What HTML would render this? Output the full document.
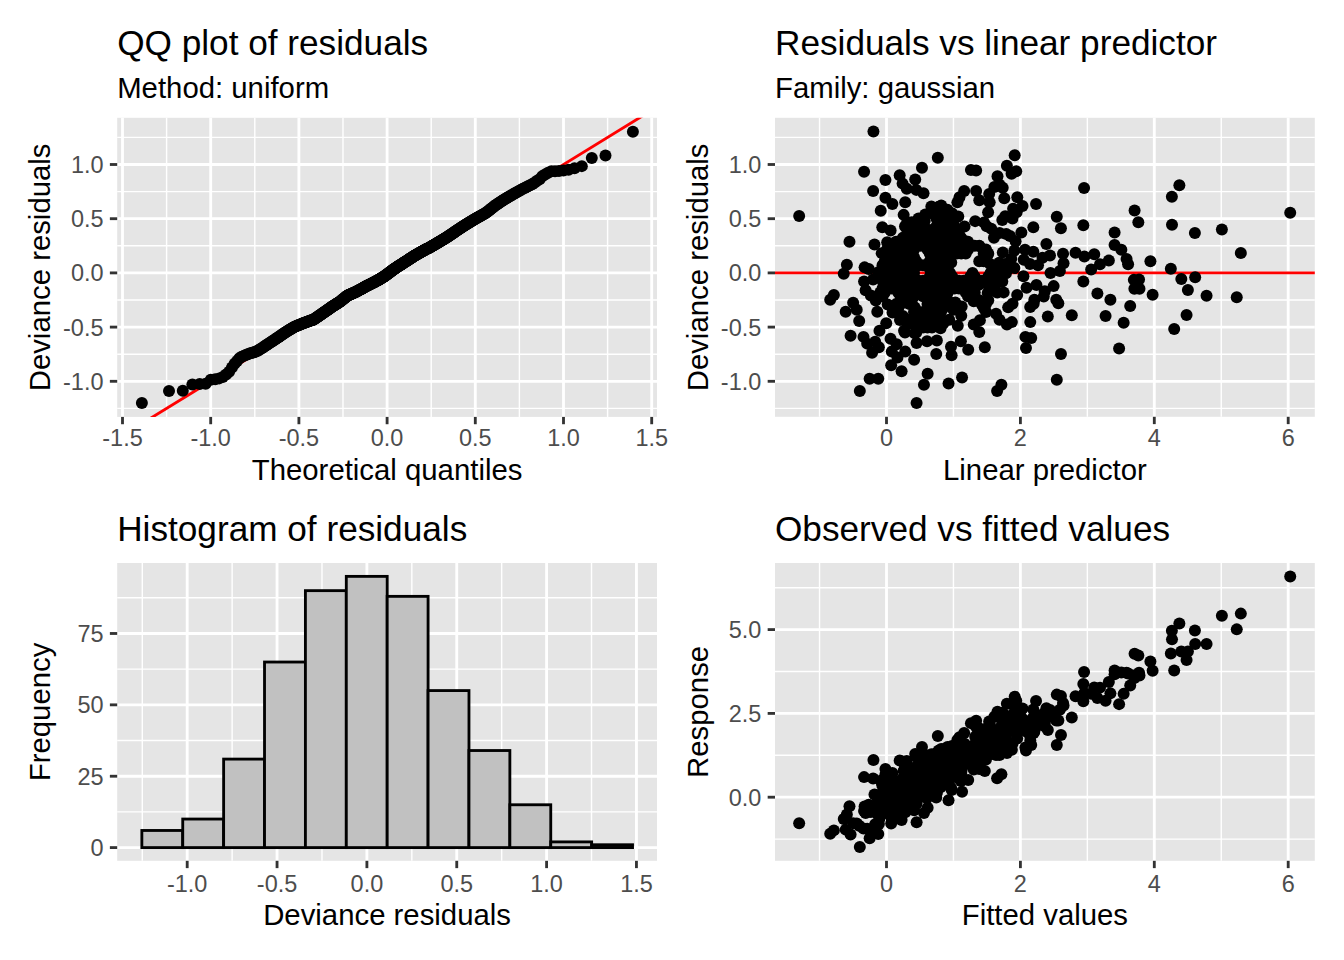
<!DOCTYPE html>
<html><head><meta charset="utf-8"><style>
html,body{margin:0;padding:0;background:#fff;width:1344px;height:960px;overflow:hidden}
svg{display:block}
text{font-family:"Liberation Sans", sans-serif;}
.ti{font-size:35.2px;fill:#000}
.st{font-size:29.33px;fill:#000}
.at{font-size:29.33px;fill:#000}
.ax{font-size:23.47px;fill:#4D4D4D}
</style></head><body>
<svg width="1344" height="960" viewBox="0 0 1344 960">
<rect width="1344" height="960" fill="#fff"/>
<rect x="117.2" y="117.8" width="539.8" height="299.1" fill="#E5E5E5"/>
<line x1="117.2" x2="657" y1="408.4" y2="408.4" stroke="#fff" stroke-width="1.42"/>
<line x1="117.2" x2="657" y1="354.2" y2="354.2" stroke="#fff" stroke-width="1.42"/>
<line x1="117.2" x2="657" y1="300" y2="300" stroke="#fff" stroke-width="1.42"/>
<line x1="117.2" x2="657" y1="245.8" y2="245.8" stroke="#fff" stroke-width="1.42"/>
<line x1="117.2" x2="657" y1="191.6" y2="191.6" stroke="#fff" stroke-width="1.42"/>
<line x1="117.2" x2="657" y1="137.4" y2="137.4" stroke="#fff" stroke-width="1.42"/>
<line y1="117.8" y2="416.9" x1="166.6" x2="166.6" stroke="#fff" stroke-width="1.42"/>
<line y1="117.8" y2="416.9" x1="254.8" x2="254.8" stroke="#fff" stroke-width="1.42"/>
<line y1="117.8" y2="416.9" x1="343" x2="343" stroke="#fff" stroke-width="1.42"/>
<line y1="117.8" y2="416.9" x1="431.2" x2="431.2" stroke="#fff" stroke-width="1.42"/>
<line y1="117.8" y2="416.9" x1="519.4" x2="519.4" stroke="#fff" stroke-width="1.42"/>
<line y1="117.8" y2="416.9" x1="607.6" x2="607.6" stroke="#fff" stroke-width="1.42"/>
<line x1="117.2" x2="657" y1="381.3" y2="381.3" stroke="#fff" stroke-width="2.84"/>
<line x1="117.2" x2="657" y1="327.1" y2="327.1" stroke="#fff" stroke-width="2.84"/>
<line x1="117.2" x2="657" y1="272.9" y2="272.9" stroke="#fff" stroke-width="2.84"/>
<line x1="117.2" x2="657" y1="218.7" y2="218.7" stroke="#fff" stroke-width="2.84"/>
<line x1="117.2" x2="657" y1="164.5" y2="164.5" stroke="#fff" stroke-width="2.84"/>
<line y1="117.8" y2="416.9" x1="122.5" x2="122.5" stroke="#fff" stroke-width="2.84"/>
<line y1="117.8" y2="416.9" x1="210.7" x2="210.7" stroke="#fff" stroke-width="2.84"/>
<line y1="117.8" y2="416.9" x1="298.9" x2="298.9" stroke="#fff" stroke-width="2.84"/>
<line y1="117.8" y2="416.9" x1="387.1" x2="387.1" stroke="#fff" stroke-width="2.84"/>
<line y1="117.8" y2="416.9" x1="475.3" x2="475.3" stroke="#fff" stroke-width="2.84"/>
<line y1="117.8" y2="416.9" x1="563.5" x2="563.5" stroke="#fff" stroke-width="2.84"/>
<line y1="117.8" y2="416.9" x1="651.7" x2="651.7" stroke="#fff" stroke-width="2.84"/>
<line y1="416.9" y2="424.23" x1="122.5" x2="122.5" stroke="#333333" stroke-width="2.84"/>
<line y1="416.9" y2="424.23" x1="210.7" x2="210.7" stroke="#333333" stroke-width="2.84"/>
<line y1="416.9" y2="424.23" x1="298.9" x2="298.9" stroke="#333333" stroke-width="2.84"/>
<line y1="416.9" y2="424.23" x1="387.1" x2="387.1" stroke="#333333" stroke-width="2.84"/>
<line y1="416.9" y2="424.23" x1="475.3" x2="475.3" stroke="#333333" stroke-width="2.84"/>
<line y1="416.9" y2="424.23" x1="563.5" x2="563.5" stroke="#333333" stroke-width="2.84"/>
<line y1="416.9" y2="424.23" x1="651.7" x2="651.7" stroke="#333333" stroke-width="2.84"/>
<line x1="109.87" x2="117.2" y1="381.3" y2="381.3" stroke="#333333" stroke-width="2.84"/>
<line x1="109.87" x2="117.2" y1="327.1" y2="327.1" stroke="#333333" stroke-width="2.84"/>
<line x1="109.87" x2="117.2" y1="272.9" y2="272.9" stroke="#333333" stroke-width="2.84"/>
<line x1="109.87" x2="117.2" y1="218.7" y2="218.7" stroke="#333333" stroke-width="2.84"/>
<line x1="109.87" x2="117.2" y1="164.5" y2="164.5" stroke="#333333" stroke-width="2.84"/>
<text x="122.5" y="446.4" class="ax" text-anchor="middle">-1.5</text>
<text x="210.7" y="446.4" class="ax" text-anchor="middle">-1.0</text>
<text x="298.9" y="446.4" class="ax" text-anchor="middle">-0.5</text>
<text x="387.1" y="446.4" class="ax" text-anchor="middle">0.0</text>
<text x="475.3" y="446.4" class="ax" text-anchor="middle">0.5</text>
<text x="563.5" y="446.4" class="ax" text-anchor="middle">1.0</text>
<text x="651.7" y="446.4" class="ax" text-anchor="middle">1.5</text>
<text x="103.5" y="389.7" class="ax" text-anchor="end">-1.0</text>
<text x="103.5" y="335.5" class="ax" text-anchor="end">-0.5</text>
<text x="103.5" y="281.3" class="ax" text-anchor="end">0.0</text>
<text x="103.5" y="227.1" class="ax" text-anchor="end">0.5</text>
<text x="103.5" y="172.9" class="ax" text-anchor="end">1.0</text>
<clipPath id="c1"><rect x="117.2" y="117.8" width="539.8" height="299.1"/></clipPath>
<g clip-path="url(#c1)"><line x1="34.3" y1="489.7" x2="739.9" y2="56.1" stroke="#FF0000" stroke-width="2.84"/></g>
<g fill="#000"><circle cx="141.9" cy="403" r="6.0"/><circle cx="169" cy="391.1" r="6.0"/><circle cx="182.79" cy="390.8" r="6.0"/><circle cx="192.37" cy="384.49" r="6.0"/><circle cx="199.68" cy="384.1" r="6.0"/><circle cx="205.65" cy="383.68" r="6.0"/><circle cx="210.77" cy="379.85" r="6.0"/><circle cx="215.23" cy="379.16" r="6.0"/><circle cx="219.22" cy="378.38" r="6.0"/><circle cx="222.82" cy="377.07" r="6.0"/><circle cx="226.1" cy="374.42" r="6.0"/><circle cx="229.13" cy="371.78" r="6.0"/><circle cx="231.96" cy="367.55" r="6.0"/><circle cx="234.6" cy="363.79" r="6.0"/><circle cx="237.09" cy="360.91" r="6.0"/><circle cx="239.42" cy="358.17" r="6.0"/><circle cx="241.64" cy="356.79" r="6.0"/><circle cx="243.76" cy="355.88" r="6.0"/><circle cx="245.77" cy="355" r="6.0"/><circle cx="247.69" cy="354.18" r="6.0"/><circle cx="249.54" cy="353.54" r="6.0"/><circle cx="251.32" cy="352.98" r="6.0"/><circle cx="253.04" cy="352.42" r="6.0"/><circle cx="254.69" cy="351.9" r="6.0"/><circle cx="256.28" cy="351.38" r="6.0"/><circle cx="257.83" cy="350.79" r="6.0"/><circle cx="259.33" cy="349.79" r="6.0"/><circle cx="260.78" cy="348.83" r="6.0"/><circle cx="262.19" cy="347.9" r="6.0"/><circle cx="263.57" cy="346.99" r="6.0"/><circle cx="264.91" cy="346.11" r="6.0"/><circle cx="266.21" cy="345.25" r="6.0"/><circle cx="267.48" cy="344.41" r="6.0"/><circle cx="268.74" cy="343.6" r="6.0"/><circle cx="269.95" cy="342.81" r="6.0"/><circle cx="271.13" cy="342.03" r="6.0"/><circle cx="272.3" cy="341.26" r="6.0"/><circle cx="273.43" cy="340.51" r="6.0"/><circle cx="274.56" cy="339.78" r="6.0"/><circle cx="275.65" cy="339.07" r="6.0"/><circle cx="276.71" cy="338.34" r="6.0"/><circle cx="277.77" cy="337.61" r="6.0"/><circle cx="278.81" cy="336.9" r="6.0"/><circle cx="279.81" cy="336.19" r="6.0"/><circle cx="280.82" cy="335.51" r="6.0"/><circle cx="281.81" cy="334.83" r="6.0"/><circle cx="282.76" cy="334.16" r="6.0"/><circle cx="283.71" cy="333.5" r="6.0"/><circle cx="284.65" cy="332.86" r="6.0"/><circle cx="285.58" cy="332.22" r="6.0"/><circle cx="286.48" cy="331.67" r="6.0"/><circle cx="287.38" cy="331.13" r="6.0"/><circle cx="288.26" cy="330.61" r="6.0"/><circle cx="289.15" cy="330.09" r="6.0"/><circle cx="289.99" cy="329.58" r="6.0"/><circle cx="290.86" cy="329.07" r="6.0"/><circle cx="291.69" cy="328.57" r="6.0"/><circle cx="292.51" cy="328.09" r="6.0"/><circle cx="293.33" cy="327.6" r="6.0"/><circle cx="294.14" cy="327.11" r="6.0"/><circle cx="294.93" cy="326.63" r="6.0"/><circle cx="295.72" cy="326.31" r="6.0"/><circle cx="296.5" cy="325.98" r="6.0"/><circle cx="297.28" cy="325.67" r="6.0"/><circle cx="298.04" cy="325.35" r="6.0"/><circle cx="298.79" cy="325.05" r="6.0"/><circle cx="299.54" cy="324.75" r="6.0"/><circle cx="300.28" cy="324.44" r="6.0"/><circle cx="301.02" cy="324.14" r="6.0"/><circle cx="301.74" cy="323.85" r="6.0"/><circle cx="302.45" cy="323.56" r="6.0"/><circle cx="303.17" cy="323.26" r="6.0"/><circle cx="303.87" cy="322.98" r="6.0"/><circle cx="304.56" cy="322.71" r="6.0"/><circle cx="305.25" cy="322.46" r="6.0"/><circle cx="305.94" cy="322.22" r="6.0"/><circle cx="306.63" cy="321.98" r="6.0"/><circle cx="307.3" cy="321.75" r="6.0"/><circle cx="307.97" cy="321.52" r="6.0"/><circle cx="308.62" cy="321.28" r="6.0"/><circle cx="309.27" cy="321.05" r="6.0"/><circle cx="309.93" cy="320.82" r="6.0"/><circle cx="310.58" cy="320.6" r="6.0"/><circle cx="311.21" cy="320.37" r="6.0"/><circle cx="311.85" cy="320.15" r="6.0"/><circle cx="312.48" cy="319.92" r="6.0"/><circle cx="313.12" cy="319.71" r="6.0"/><circle cx="313.74" cy="319.48" r="6.0"/><circle cx="314.35" cy="319.05" r="6.0"/><circle cx="314.97" cy="318.62" r="6.0"/><circle cx="315.57" cy="318.2" r="6.0"/><circle cx="316.19" cy="317.79" r="6.0"/><circle cx="316.79" cy="317.37" r="6.0"/><circle cx="317.39" cy="316.95" r="6.0"/><circle cx="317.97" cy="316.54" r="6.0"/><circle cx="318.57" cy="316.14" r="6.0"/><circle cx="319.15" cy="315.74" r="6.0"/><circle cx="319.73" cy="315.33" r="6.0"/><circle cx="320.3" cy="314.94" r="6.0"/><circle cx="320.88" cy="314.54" r="6.0"/><circle cx="321.44" cy="314.14" r="6.0"/><circle cx="322.03" cy="313.75" r="6.0"/><circle cx="322.59" cy="313.35" r="6.0"/><circle cx="323.14" cy="312.96" r="6.0"/><circle cx="323.7" cy="312.57" r="6.0"/><circle cx="324.25" cy="312.18" r="6.0"/><circle cx="324.81" cy="311.8" r="6.0"/><circle cx="325.36" cy="311.41" r="6.0"/><circle cx="325.91" cy="311.04" r="6.0"/><circle cx="326.45" cy="310.64" r="6.0"/><circle cx="326.98" cy="310.27" r="6.0"/><circle cx="327.53" cy="309.9" r="6.0"/><circle cx="328.06" cy="309.52" r="6.0"/><circle cx="328.59" cy="309.15" r="6.0"/><circle cx="329.12" cy="308.77" r="6.0"/><circle cx="329.65" cy="308.4" r="6.0"/><circle cx="330.18" cy="308.03" r="6.0"/><circle cx="330.69" cy="307.66" r="6.0"/><circle cx="331.22" cy="307.31" r="6.0"/><circle cx="331.73" cy="306.94" r="6.0"/><circle cx="332.24" cy="306.58" r="6.0"/><circle cx="332.75" cy="306.23" r="6.0"/><circle cx="333.26" cy="305.92" r="6.0"/><circle cx="333.77" cy="305.6" r="6.0"/><circle cx="334.29" cy="305.28" r="6.0"/><circle cx="334.78" cy="304.96" r="6.0"/><circle cx="335.29" cy="304.65" r="6.0"/><circle cx="335.79" cy="304.34" r="6.0"/><circle cx="336.28" cy="304.03" r="6.0"/><circle cx="336.77" cy="303.72" r="6.0"/><circle cx="337.27" cy="303.4" r="6.0"/><circle cx="337.76" cy="303.1" r="6.0"/><circle cx="338.25" cy="302.8" r="6.0"/><circle cx="338.75" cy="302.48" r="6.0"/><circle cx="339.23" cy="302.18" r="6.0"/><circle cx="339.72" cy="301.88" r="6.0"/><circle cx="340.2" cy="301.54" r="6.0"/><circle cx="340.67" cy="301.15" r="6.0"/><circle cx="341.17" cy="300.76" r="6.0"/><circle cx="341.64" cy="300.37" r="6.0"/><circle cx="342.12" cy="299.98" r="6.0"/><circle cx="342.58" cy="299.6" r="6.0"/><circle cx="343.05" cy="299.21" r="6.0"/><circle cx="343.53" cy="298.83" r="6.0"/><circle cx="344.01" cy="298.45" r="6.0"/><circle cx="344.46" cy="298.07" r="6.0"/><circle cx="344.94" cy="297.69" r="6.0"/><circle cx="345.4" cy="297.31" r="6.0"/><circle cx="345.86" cy="296.93" r="6.0"/><circle cx="346.32" cy="296.55" r="6.0"/><circle cx="346.79" cy="296.18" r="6.0"/><circle cx="347.25" cy="295.8" r="6.0"/><circle cx="347.71" cy="295.51" r="6.0"/><circle cx="348.17" cy="295.31" r="6.0"/><circle cx="348.61" cy="295.1" r="6.0"/><circle cx="349.07" cy="294.89" r="6.0"/><circle cx="349.53" cy="294.7" r="6.0"/><circle cx="349.97" cy="294.49" r="6.0"/><circle cx="350.43" cy="294.29" r="6.0"/><circle cx="350.89" cy="294.09" r="6.0"/><circle cx="351.33" cy="293.89" r="6.0"/><circle cx="351.77" cy="293.69" r="6.0"/><circle cx="352.23" cy="293.5" r="6.0"/><circle cx="352.67" cy="293.29" r="6.0"/><circle cx="353.11" cy="293.09" r="6.0"/><circle cx="353.55" cy="292.9" r="6.0"/><circle cx="353.99" cy="292.69" r="6.0"/><circle cx="354.43" cy="292.5" r="6.0"/><circle cx="354.87" cy="292.3" r="6.0"/><circle cx="355.31" cy="292.11" r="6.0"/><circle cx="355.75" cy="291.91" r="6.0"/><circle cx="356.19" cy="291.72" r="6.0"/><circle cx="356.62" cy="291.52" r="6.0"/><circle cx="357.06" cy="291.31" r="6.0"/><circle cx="357.5" cy="291.07" r="6.0"/><circle cx="357.92" cy="290.83" r="6.0"/><circle cx="358.36" cy="290.58" r="6.0"/><circle cx="358.79" cy="290.34" r="6.0"/><circle cx="359.23" cy="290.1" r="6.0"/><circle cx="359.65" cy="289.86" r="6.0"/><circle cx="360.08" cy="289.63" r="6.0"/><circle cx="360.52" cy="289.38" r="6.0"/><circle cx="360.94" cy="289.14" r="6.0"/><circle cx="361.36" cy="288.9" r="6.0"/><circle cx="361.79" cy="288.66" r="6.0"/><circle cx="362.21" cy="288.42" r="6.0"/><circle cx="362.63" cy="288.2" r="6.0"/><circle cx="363.06" cy="287.96" r="6.0"/><circle cx="363.48" cy="287.72" r="6.0"/><circle cx="363.9" cy="287.48" r="6.0"/><circle cx="364.33" cy="287.24" r="6.0"/><circle cx="364.75" cy="287.01" r="6.0"/><circle cx="365.17" cy="286.78" r="6.0"/><circle cx="365.6" cy="286.54" r="6.0"/><circle cx="366.02" cy="286.31" r="6.0"/><circle cx="366.43" cy="286.08" r="6.0"/><circle cx="366.85" cy="285.88" r="6.0"/><circle cx="367.27" cy="285.67" r="6.0"/><circle cx="367.68" cy="285.45" r="6.0"/><circle cx="368.1" cy="285.25" r="6.0"/><circle cx="368.53" cy="285.04" r="6.0"/><circle cx="368.93" cy="284.83" r="6.0"/><circle cx="369.35" cy="284.63" r="6.0"/><circle cx="369.76" cy="284.42" r="6.0"/><circle cx="370.18" cy="284.21" r="6.0"/><circle cx="370.59" cy="284" r="6.0"/><circle cx="371.01" cy="283.79" r="6.0"/><circle cx="371.42" cy="283.59" r="6.0"/><circle cx="371.82" cy="283.38" r="6.0"/><circle cx="372.25" cy="283.18" r="6.0"/><circle cx="372.65" cy="282.97" r="6.0"/><circle cx="373.06" cy="282.76" r="6.0"/><circle cx="373.48" cy="282.56" r="6.0"/><circle cx="373.89" cy="282.35" r="6.0"/><circle cx="374.29" cy="282.15" r="6.0"/><circle cx="374.7" cy="281.95" r="6.0"/><circle cx="375.12" cy="281.75" r="6.0"/><circle cx="375.53" cy="281.54" r="6.0"/><circle cx="375.93" cy="281.31" r="6.0"/><circle cx="376.34" cy="281.07" r="6.0"/><circle cx="376.75" cy="280.85" r="6.0"/><circle cx="377.15" cy="280.61" r="6.0"/><circle cx="377.57" cy="280.38" r="6.0"/><circle cx="377.98" cy="280.14" r="6.0"/><circle cx="378.39" cy="279.91" r="6.0"/><circle cx="378.79" cy="279.67" r="6.0"/><circle cx="379.2" cy="279.45" r="6.0"/><circle cx="379.6" cy="279.21" r="6.0"/><circle cx="380.01" cy="278.98" r="6.0"/><circle cx="380.41" cy="278.75" r="6.0"/><circle cx="380.82" cy="278.52" r="6.0"/><circle cx="381.23" cy="278.29" r="6.0"/><circle cx="381.63" cy="278.03" r="6.0"/><circle cx="382.04" cy="277.77" r="6.0"/><circle cx="382.44" cy="277.52" r="6.0"/><circle cx="382.85" cy="277.26" r="6.0"/><circle cx="383.25" cy="277" r="6.0"/><circle cx="383.66" cy="276.75" r="6.0"/><circle cx="384.07" cy="276.49" r="6.0"/><circle cx="384.47" cy="276.24" r="6.0"/><circle cx="384.88" cy="275.98" r="6.0"/><circle cx="385.28" cy="275.69" r="6.0"/><circle cx="385.69" cy="275.38" r="6.0"/><circle cx="386.09" cy="275.08" r="6.0"/><circle cx="386.5" cy="274.78" r="6.0"/><circle cx="386.91" cy="274.47" r="6.0"/><circle cx="387.29" cy="274.17" r="6.0"/><circle cx="387.7" cy="273.86" r="6.0"/><circle cx="388.11" cy="273.56" r="6.0"/><circle cx="388.51" cy="273.26" r="6.0"/><circle cx="388.92" cy="272.94" r="6.0"/><circle cx="389.32" cy="272.64" r="6.0"/><circle cx="389.73" cy="272.34" r="6.0"/><circle cx="390.13" cy="272.03" r="6.0"/><circle cx="390.54" cy="271.73" r="6.0"/><circle cx="390.95" cy="271.43" r="6.0"/><circle cx="391.35" cy="271.12" r="6.0"/><circle cx="391.76" cy="270.82" r="6.0"/><circle cx="392.16" cy="270.5" r="6.0"/><circle cx="392.57" cy="270.2" r="6.0"/><circle cx="392.97" cy="269.9" r="6.0"/><circle cx="393.38" cy="269.59" r="6.0"/><circle cx="393.79" cy="269.29" r="6.0"/><circle cx="394.19" cy="268.99" r="6.0"/><circle cx="394.6" cy="268.7" r="6.0"/><circle cx="395" cy="268.44" r="6.0"/><circle cx="395.41" cy="268.17" r="6.0"/><circle cx="395.81" cy="267.91" r="6.0"/><circle cx="396.22" cy="267.65" r="6.0"/><circle cx="396.63" cy="267.38" r="6.0"/><circle cx="397.05" cy="267.12" r="6.0"/><circle cx="397.45" cy="266.85" r="6.0"/><circle cx="397.86" cy="266.59" r="6.0"/><circle cx="398.27" cy="266.33" r="6.0"/><circle cx="398.67" cy="266.06" r="6.0"/><circle cx="399.08" cy="265.8" r="6.0"/><circle cx="399.5" cy="265.53" r="6.0"/><circle cx="399.91" cy="265.27" r="6.0"/><circle cx="400.31" cy="265" r="6.0"/><circle cx="400.72" cy="264.73" r="6.0"/><circle cx="401.14" cy="264.47" r="6.0"/><circle cx="401.55" cy="264.2" r="6.0"/><circle cx="401.95" cy="263.94" r="6.0"/><circle cx="402.38" cy="263.66" r="6.0"/><circle cx="402.78" cy="263.39" r="6.0"/><circle cx="403.19" cy="263.13" r="6.0"/><circle cx="403.61" cy="262.86" r="6.0"/><circle cx="404.02" cy="262.59" r="6.0"/><circle cx="404.44" cy="262.32" r="6.0"/><circle cx="404.85" cy="262.05" r="6.0"/><circle cx="405.27" cy="261.79" r="6.0"/><circle cx="405.67" cy="261.52" r="6.0"/><circle cx="406.1" cy="261.25" r="6.0"/><circle cx="406.52" cy="260.98" r="6.0"/><circle cx="406.93" cy="260.7" r="6.0"/><circle cx="407.35" cy="260.43" r="6.0"/><circle cx="407.77" cy="260.16" r="6.0"/><circle cx="408.18" cy="259.89" r="6.0"/><circle cx="408.6" cy="259.62" r="6.0"/><circle cx="409.03" cy="259.34" r="6.0"/><circle cx="409.45" cy="259.07" r="6.0"/><circle cx="409.87" cy="258.8" r="6.0"/><circle cx="410.3" cy="258.53" r="6.0"/><circle cx="410.72" cy="258.24" r="6.0"/><circle cx="411.14" cy="257.97" r="6.0"/><circle cx="411.57" cy="257.7" r="6.0"/><circle cx="411.99" cy="257.42" r="6.0"/><circle cx="412.41" cy="257.15" r="6.0"/><circle cx="412.84" cy="256.87" r="6.0"/><circle cx="413.26" cy="256.61" r="6.0"/><circle cx="413.68" cy="256.35" r="6.0"/><circle cx="414.12" cy="256.1" r="6.0"/><circle cx="414.55" cy="255.84" r="6.0"/><circle cx="414.97" cy="255.58" r="6.0"/><circle cx="415.41" cy="255.33" r="6.0"/><circle cx="415.84" cy="255.07" r="6.0"/><circle cx="416.28" cy="254.81" r="6.0"/><circle cx="416.7" cy="254.55" r="6.0"/><circle cx="417.14" cy="254.29" r="6.0"/><circle cx="417.58" cy="254.04" r="6.0"/><circle cx="418.01" cy="253.78" r="6.0"/><circle cx="418.45" cy="253.52" r="6.0"/><circle cx="418.89" cy="253.25" r="6.0"/><circle cx="419.33" cy="252.99" r="6.0"/><circle cx="419.77" cy="252.73" r="6.0"/><circle cx="420.21" cy="252.47" r="6.0"/><circle cx="420.65" cy="252.21" r="6.0"/><circle cx="421.09" cy="251.94" r="6.0"/><circle cx="421.53" cy="251.68" r="6.0"/><circle cx="421.97" cy="251.4" r="6.0"/><circle cx="422.43" cy="251.14" r="6.0"/><circle cx="422.87" cy="250.91" r="6.0"/><circle cx="423.31" cy="250.68" r="6.0"/><circle cx="423.77" cy="250.45" r="6.0"/><circle cx="424.23" cy="250.22" r="6.0"/><circle cx="424.67" cy="250" r="6.0"/><circle cx="425.13" cy="249.77" r="6.0"/><circle cx="425.59" cy="249.54" r="6.0"/><circle cx="426.03" cy="249.31" r="6.0"/><circle cx="426.49" cy="249.07" r="6.0"/><circle cx="426.95" cy="248.85" r="6.0"/><circle cx="427.41" cy="248.61" r="6.0"/><circle cx="427.88" cy="248.38" r="6.0"/><circle cx="428.34" cy="248.14" r="6.0"/><circle cx="428.8" cy="247.9" r="6.0"/><circle cx="429.26" cy="247.68" r="6.0"/><circle cx="429.74" cy="247.44" r="6.0"/><circle cx="430.19" cy="247.19" r="6.0"/><circle cx="430.67" cy="246.91" r="6.0"/><circle cx="431.15" cy="246.63" r="6.0"/><circle cx="431.62" cy="246.35" r="6.0"/><circle cx="432.08" cy="246.07" r="6.0"/><circle cx="432.56" cy="245.8" r="6.0"/><circle cx="433.03" cy="245.52" r="6.0"/><circle cx="433.53" cy="245.24" r="6.0"/><circle cx="434" cy="244.95" r="6.0"/><circle cx="434.48" cy="244.67" r="6.0"/><circle cx="434.97" cy="244.39" r="6.0"/><circle cx="435.45" cy="244.1" r="6.0"/><circle cx="435.95" cy="243.82" r="6.0"/><circle cx="436.44" cy="243.52" r="6.0"/><circle cx="436.93" cy="243.24" r="6.0"/><circle cx="437.43" cy="242.95" r="6.0"/><circle cx="437.92" cy="242.66" r="6.0"/><circle cx="438.41" cy="242.36" r="6.0"/><circle cx="438.91" cy="242.07" r="6.0"/><circle cx="439.42" cy="241.77" r="6.0"/><circle cx="439.91" cy="241.46" r="6.0"/><circle cx="440.43" cy="241.16" r="6.0"/><circle cx="440.94" cy="240.85" r="6.0"/><circle cx="441.45" cy="240.54" r="6.0"/><circle cx="441.96" cy="240.23" r="6.0"/><circle cx="442.47" cy="239.91" r="6.0"/><circle cx="442.98" cy="239.6" r="6.0"/><circle cx="443.51" cy="239.29" r="6.0"/><circle cx="444.02" cy="238.97" r="6.0"/><circle cx="444.55" cy="238.66" r="6.0"/><circle cx="445.08" cy="238.33" r="6.0"/><circle cx="445.61" cy="238.01" r="6.0"/><circle cx="446.14" cy="237.69" r="6.0"/><circle cx="446.67" cy="237.37" r="6.0"/><circle cx="447.22" cy="237.04" r="6.0"/><circle cx="447.75" cy="236.71" r="6.0"/><circle cx="448.29" cy="236.37" r="6.0"/><circle cx="448.84" cy="235.99" r="6.0"/><circle cx="449.39" cy="235.61" r="6.0"/><circle cx="449.95" cy="235.23" r="6.0"/><circle cx="450.5" cy="234.84" r="6.0"/><circle cx="451.06" cy="234.46" r="6.0"/><circle cx="451.61" cy="234.07" r="6.0"/><circle cx="452.17" cy="233.68" r="6.0"/><circle cx="452.76" cy="233.29" r="6.0"/><circle cx="453.32" cy="232.89" r="6.0"/><circle cx="453.9" cy="232.49" r="6.0"/><circle cx="454.47" cy="232.1" r="6.0"/><circle cx="455.05" cy="231.69" r="6.0"/><circle cx="455.63" cy="231.29" r="6.0"/><circle cx="456.23" cy="230.88" r="6.0"/><circle cx="456.81" cy="230.47" r="6.0"/><circle cx="457.41" cy="230.06" r="6.0"/><circle cx="458.01" cy="229.66" r="6.0"/><circle cx="458.63" cy="229.27" r="6.0"/><circle cx="459.23" cy="228.88" r="6.0"/><circle cx="459.85" cy="228.48" r="6.0"/><circle cx="460.46" cy="228.08" r="6.0"/><circle cx="461.08" cy="227.68" r="6.0"/><circle cx="461.72" cy="227.26" r="6.0"/><circle cx="462.35" cy="226.85" r="6.0"/><circle cx="462.99" cy="226.44" r="6.0"/><circle cx="463.62" cy="226.03" r="6.0"/><circle cx="464.28" cy="225.61" r="6.0"/><circle cx="464.93" cy="225.18" r="6.0"/><circle cx="465.58" cy="224.76" r="6.0"/><circle cx="466.23" cy="224.33" r="6.0"/><circle cx="466.9" cy="223.89" r="6.0"/><circle cx="467.57" cy="223.49" r="6.0"/><circle cx="468.26" cy="223.08" r="6.0"/><circle cx="468.95" cy="222.67" r="6.0"/><circle cx="469.64" cy="222.26" r="6.0"/><circle cx="470.33" cy="221.83" r="6.0"/><circle cx="471.03" cy="221.41" r="6.0"/><circle cx="471.75" cy="220.98" r="6.0"/><circle cx="472.46" cy="220.55" r="6.0"/><circle cx="473.18" cy="220.11" r="6.0"/><circle cx="473.92" cy="219.68" r="6.0"/><circle cx="474.66" cy="219.23" r="6.0"/><circle cx="475.41" cy="218.78" r="6.0"/><circle cx="476.16" cy="218.32" r="6.0"/><circle cx="476.92" cy="217.9" r="6.0"/><circle cx="477.7" cy="217.48" r="6.0"/><circle cx="478.48" cy="217.04" r="6.0"/><circle cx="479.27" cy="216.61" r="6.0"/><circle cx="480.06" cy="216.16" r="6.0"/><circle cx="480.87" cy="215.72" r="6.0"/><circle cx="481.69" cy="215.26" r="6.0"/><circle cx="482.51" cy="214.81" r="6.0"/><circle cx="483.34" cy="214.34" r="6.0"/><circle cx="484.21" cy="213.88" r="6.0"/><circle cx="485.05" cy="213.4" r="6.0"/><circle cx="485.94" cy="212.84" r="6.0"/><circle cx="486.82" cy="212.13" r="6.0"/><circle cx="487.72" cy="211.42" r="6.0"/><circle cx="488.62" cy="210.69" r="6.0"/><circle cx="489.55" cy="209.95" r="6.0"/><circle cx="490.49" cy="209.2" r="6.0"/><circle cx="491.44" cy="208.45" r="6.0"/><circle cx="492.39" cy="207.68" r="6.0"/><circle cx="493.38" cy="206.9" r="6.0"/><circle cx="494.39" cy="206.09" r="6.0"/><circle cx="495.39" cy="205.33" r="6.0"/><circle cx="496.43" cy="204.66" r="6.0"/><circle cx="497.49" cy="203.97" r="6.0"/><circle cx="498.55" cy="203.26" r="6.0"/><circle cx="499.64" cy="202.55" r="6.0"/><circle cx="500.77" cy="201.82" r="6.0"/><circle cx="501.9" cy="201.07" r="6.0"/><circle cx="503.07" cy="200.3" r="6.0"/><circle cx="504.25" cy="199.53" r="6.0"/><circle cx="505.46" cy="198.81" r="6.0"/><circle cx="506.72" cy="198.06" r="6.0"/><circle cx="507.99" cy="197.3" r="6.0"/><circle cx="509.29" cy="196.53" r="6.0"/><circle cx="510.63" cy="195.73" r="6.0"/><circle cx="512.01" cy="194.92" r="6.0"/><circle cx="513.42" cy="194.07" r="6.0"/><circle cx="514.87" cy="193.26" r="6.0"/><circle cx="516.37" cy="192.42" r="6.0"/><circle cx="517.92" cy="191.57" r="6.0"/><circle cx="519.51" cy="190.69" r="6.0"/><circle cx="521.16" cy="189.77" r="6.0"/><circle cx="522.88" cy="188.82" r="6.0"/><circle cx="524.66" cy="187.93" r="6.0"/><circle cx="526.51" cy="187" r="6.0"/><circle cx="528.43" cy="186.04" r="6.0"/><circle cx="530.44" cy="185.03" r="6.0"/><circle cx="532.56" cy="183.96" r="6.0"/><circle cx="534.78" cy="182.45" r="6.0"/><circle cx="537.11" cy="180.86" r="6.0"/><circle cx="539.6" cy="179.18" r="6.0"/><circle cx="542.24" cy="176.2" r="6.0"/><circle cx="545.07" cy="174.46" r="6.0"/><circle cx="548.1" cy="172.71" r="6.0"/><circle cx="551.38" cy="171.2" r="6.0"/><circle cx="554.98" cy="171.2" r="6.0"/><circle cx="558.97" cy="170.95" r="6.0"/><circle cx="563.43" cy="170.44" r="6.0"/><circle cx="568.55" cy="169.74" r="6.0"/><circle cx="574.53" cy="168.34" r="6.0"/><circle cx="581.83" cy="166.13" r="6.0"/><circle cx="591.79" cy="157.9" r="6.0"/><circle cx="605.5" cy="155.41" r="6.0"/><circle cx="632.9" cy="131.7" r="6.0"/></g>
<text x="117.2" y="55.2" class="ti">QQ plot of residuals</text>
<text x="117.2" y="97.5" class="st">Method: uniform</text>
<text x="387.1" y="480.3" class="at" text-anchor="middle">Theoretical quantiles</text>
<text transform="translate(49.5,267.4) rotate(-90)" class="at" text-anchor="middle">Deviance residuals</text>
<rect x="775" y="117.8" width="539.8" height="299" fill="#E5E5E5"/>
<line x1="775" x2="1314.8" y1="408.4" y2="408.4" stroke="#fff" stroke-width="1.42"/>
<line x1="775" x2="1314.8" y1="354.2" y2="354.2" stroke="#fff" stroke-width="1.42"/>
<line x1="775" x2="1314.8" y1="300" y2="300" stroke="#fff" stroke-width="1.42"/>
<line x1="775" x2="1314.8" y1="245.8" y2="245.8" stroke="#fff" stroke-width="1.42"/>
<line x1="775" x2="1314.8" y1="191.6" y2="191.6" stroke="#fff" stroke-width="1.42"/>
<line x1="775" x2="1314.8" y1="137.4" y2="137.4" stroke="#fff" stroke-width="1.42"/>
<line y1="117.8" y2="416.8" x1="819.55" x2="819.55" stroke="#fff" stroke-width="1.42"/>
<line y1="117.8" y2="416.8" x1="953.45" x2="953.45" stroke="#fff" stroke-width="1.42"/>
<line y1="117.8" y2="416.8" x1="1087.35" x2="1087.35" stroke="#fff" stroke-width="1.42"/>
<line y1="117.8" y2="416.8" x1="1221.25" x2="1221.25" stroke="#fff" stroke-width="1.42"/>
<line x1="775" x2="1314.8" y1="381.3" y2="381.3" stroke="#fff" stroke-width="2.84"/>
<line x1="775" x2="1314.8" y1="327.1" y2="327.1" stroke="#fff" stroke-width="2.84"/>
<line x1="775" x2="1314.8" y1="272.9" y2="272.9" stroke="#fff" stroke-width="2.84"/>
<line x1="775" x2="1314.8" y1="218.7" y2="218.7" stroke="#fff" stroke-width="2.84"/>
<line x1="775" x2="1314.8" y1="164.5" y2="164.5" stroke="#fff" stroke-width="2.84"/>
<line y1="117.8" y2="416.8" x1="886.5" x2="886.5" stroke="#fff" stroke-width="2.84"/>
<line y1="117.8" y2="416.8" x1="1020.4" x2="1020.4" stroke="#fff" stroke-width="2.84"/>
<line y1="117.8" y2="416.8" x1="1154.3" x2="1154.3" stroke="#fff" stroke-width="2.84"/>
<line y1="117.8" y2="416.8" x1="1288.2" x2="1288.2" stroke="#fff" stroke-width="2.84"/>
<line y1="416.8" y2="424.13" x1="886.5" x2="886.5" stroke="#333333" stroke-width="2.84"/>
<line y1="416.8" y2="424.13" x1="1020.4" x2="1020.4" stroke="#333333" stroke-width="2.84"/>
<line y1="416.8" y2="424.13" x1="1154.3" x2="1154.3" stroke="#333333" stroke-width="2.84"/>
<line y1="416.8" y2="424.13" x1="1288.2" x2="1288.2" stroke="#333333" stroke-width="2.84"/>
<line x1="767.67" x2="775" y1="381.3" y2="381.3" stroke="#333333" stroke-width="2.84"/>
<line x1="767.67" x2="775" y1="327.1" y2="327.1" stroke="#333333" stroke-width="2.84"/>
<line x1="767.67" x2="775" y1="272.9" y2="272.9" stroke="#333333" stroke-width="2.84"/>
<line x1="767.67" x2="775" y1="218.7" y2="218.7" stroke="#333333" stroke-width="2.84"/>
<line x1="767.67" x2="775" y1="164.5" y2="164.5" stroke="#333333" stroke-width="2.84"/>
<text x="886.5" y="446.4" class="ax" text-anchor="middle">0</text>
<text x="1020.4" y="446.4" class="ax" text-anchor="middle">2</text>
<text x="1154.3" y="446.4" class="ax" text-anchor="middle">4</text>
<text x="1288.2" y="446.4" class="ax" text-anchor="middle">6</text>
<text x="761.3" y="389.7" class="ax" text-anchor="end">-1.0</text>
<text x="761.3" y="335.5" class="ax" text-anchor="end">-0.5</text>
<text x="761.3" y="281.3" class="ax" text-anchor="end">0.0</text>
<text x="761.3" y="227.1" class="ax" text-anchor="end">0.5</text>
<text x="761.3" y="172.9" class="ax" text-anchor="end">1.0</text>
<line x1="775" x2="1314.8" y1="272.9" y2="272.9" stroke="#FF0000" stroke-width="2.84"/>
<clipPath id="c2"><rect x="775" y="117.8" width="539.8" height="299"/></clipPath>
<g clip-path="url(#c2)">
<g fill="#000"><circle cx="873.44" cy="131.55" r="6.0"/><circle cx="864.07" cy="171.64" r="6.0"/><circle cx="885.42" cy="179.98" r="6.0"/><circle cx="899.69" cy="175.3" r="6.0"/><circle cx="902.6" cy="183.62" r="6.0"/><circle cx="906.77" cy="188.84" r="6.0"/><circle cx="873.12" cy="190.92" r="6.0"/><circle cx="885.42" cy="197.69" r="6.0"/><circle cx="892.4" cy="203.94" r="6.0"/><circle cx="905.21" cy="202.17" r="6.0"/><circle cx="880.73" cy="210.71" r="6.0"/><circle cx="903.65" cy="214.87" r="6.0"/><circle cx="799.16" cy="215.91" r="6.0"/><circle cx="937.81" cy="157.79" r="6.0"/><circle cx="921.98" cy="167.8" r="6.0"/><circle cx="915.21" cy="179.46" r="6.0"/><circle cx="916.25" cy="189.88" r="6.0"/><circle cx="923.54" cy="193.2" r="6.0"/><circle cx="970.94" cy="170.08" r="6.0"/><circle cx="976.15" cy="170.6" r="6.0"/><circle cx="1014.69" cy="155.3" r="6.0"/><circle cx="1006.88" cy="165.7" r="6.0"/><circle cx="1016.25" cy="171.33" r="6.0"/><circle cx="1011.56" cy="173.72" r="6.0"/><circle cx="997.5" cy="176.34" r="6.0"/><circle cx="999.59" cy="184.66" r="6.0"/><circle cx="1002.71" cy="187.8" r="6.0"/><circle cx="964.17" cy="190.92" r="6.0"/><circle cx="959.48" cy="197.17" r="6.0"/><circle cx="957.39" cy="202.37" r="6.0"/><circle cx="976.15" cy="190.92" r="6.0"/><circle cx="979.27" cy="200.29" r="6.0"/><circle cx="989.17" cy="194.04" r="6.0"/><circle cx="989.69" cy="202.37" r="6.0"/><circle cx="1004.27" cy="198.21" r="6.0"/><circle cx="1017.29" cy="197.17" r="6.0"/><circle cx="1022.5" cy="206.02" r="6.0"/><circle cx="1036.04" cy="203.94" r="6.0"/><circle cx="1013.12" cy="208.63" r="6.0"/><circle cx="988.12" cy="212.27" r="6.0"/><circle cx="931.36" cy="206.54" r="6.0"/><circle cx="941.25" cy="205.5" r="6.0"/><circle cx="947.5" cy="209.67" r="6.0"/><circle cx="1084.06" cy="188" r="6.0"/><circle cx="1134.58" cy="210.5" r="6.0"/><circle cx="1171.87" cy="196.64" r="6.0"/><circle cx="1179.37" cy="185.18" r="6.0"/><circle cx="1290.21" cy="212.79" r="6.0"/><circle cx="849.48" cy="241.85" r="6.0"/><circle cx="846.87" cy="264.77" r="6.0"/><circle cx="843.75" cy="273.83" r="6.0"/><circle cx="864.58" cy="267.37" r="6.0"/><circle cx="868.75" cy="268.93" r="6.0"/><circle cx="864.07" cy="281.44" r="6.0"/><circle cx="865.62" cy="290.29" r="6.0"/><circle cx="870.83" cy="295.5" r="6.0"/><circle cx="833.86" cy="294.98" r="6.0"/><circle cx="830.21" cy="299.66" r="6.0"/><circle cx="853.13" cy="302.8" r="6.0"/><circle cx="882.29" cy="227.27" r="6.0"/><circle cx="890.62" cy="230.4" r="6.0"/><circle cx="874.48" cy="244.46" r="6.0"/><circle cx="919.22" cy="220.32" r="6.0"/><circle cx="924.69" cy="221.1" r="6.0"/><circle cx="958.28" cy="216.4" r="6.0"/><circle cx="952.03" cy="213.28" r="6.0"/><circle cx="964.53" cy="226.56" r="6.0"/><circle cx="966.1" cy="241.41" r="6.0"/><circle cx="907.5" cy="234.37" r="6.0"/><circle cx="887.19" cy="242.19" r="6.0"/><circle cx="881.72" cy="253.13" r="6.0"/><circle cx="887.97" cy="261.72" r="6.0"/><circle cx="882.5" cy="270.31" r="6.0"/><circle cx="951.25" cy="262.5" r="6.0"/><circle cx="962.19" cy="250.79" r="6.0"/><circle cx="979.37" cy="246.13" r="6.0"/><circle cx="987.71" cy="254.46" r="6.0"/><circle cx="989.79" cy="263.84" r="6.0"/><circle cx="993.96" cy="237.79" r="6.0"/><circle cx="1002.81" cy="252.38" r="6.0"/><circle cx="999.16" cy="262.79" r="6.0"/><circle cx="1002.29" cy="220.09" r="6.0"/><circle cx="975.21" cy="221.13" r="6.0"/><circle cx="986.66" cy="226.33" r="6.0"/><circle cx="999.16" cy="272.16" r="6.0"/><circle cx="1002.29" cy="281.54" r="6.0"/><circle cx="987.71" cy="293" r="6.0"/><circle cx="974.16" cy="297.17" r="6.0"/><circle cx="984.58" cy="306.54" r="6.0"/><circle cx="996.04" cy="313.83" r="6.0"/><circle cx="961.66" cy="306.54" r="6.0"/><circle cx="953.34" cy="309.67" r="6.0"/><circle cx="887.71" cy="304.46" r="6.0"/><circle cx="877.29" cy="311.75" r="6.0"/><circle cx="873.12" cy="279.46" r="6.0"/><circle cx="878.33" cy="272.16" r="6.0"/><circle cx="883.54" cy="294.04" r="6.0"/><circle cx="1056.77" cy="216.86" r="6.0"/><circle cx="1060.94" cy="228.32" r="6.0"/><circle cx="1083.33" cy="225.18" r="6.0"/><circle cx="1114.59" cy="232.48" r="6.0"/><circle cx="1033.33" cy="227.27" r="6.0"/><circle cx="1021.36" cy="232.48" r="6.0"/><circle cx="1046.36" cy="243.94" r="6.0"/><circle cx="1114.59" cy="244.98" r="6.0"/><circle cx="1121.35" cy="249.67" r="6.0"/><circle cx="1126.56" cy="259.05" r="6.0"/><circle cx="1128.12" cy="264.25" r="6.0"/><circle cx="1075.52" cy="252.79" r="6.0"/><circle cx="1084.38" cy="256.43" r="6.0"/><circle cx="1094.27" cy="254.35" r="6.0"/><circle cx="1100" cy="264.25" r="6.0"/><circle cx="1108.85" cy="260.61" r="6.0"/><circle cx="1091.15" cy="269.46" r="6.0"/><circle cx="1063.02" cy="253.83" r="6.0"/><circle cx="1063.54" cy="263.21" r="6.0"/><circle cx="1059.89" cy="271.02" r="6.0"/><circle cx="1050.52" cy="273.11" r="6.0"/><circle cx="1050" cy="255.39" r="6.0"/><circle cx="1038.02" cy="265.29" r="6.0"/><circle cx="1033.33" cy="251.75" r="6.0"/><circle cx="1025" cy="249.67" r="6.0"/><circle cx="1023.44" cy="276.23" r="6.0"/><circle cx="1036.46" cy="285.08" r="6.0"/><circle cx="1026.56" cy="287.69" r="6.0"/><circle cx="1053.65" cy="286.12" r="6.0"/><circle cx="1044.79" cy="291.33" r="6.0"/><circle cx="1017.19" cy="294.98" r="6.0"/><circle cx="1003.65" cy="292.38" r="6.0"/><circle cx="1056.25" cy="299.66" r="6.0"/><circle cx="1058.33" cy="303.32" r="6.0"/><circle cx="1034.37" cy="299.66" r="6.0"/><circle cx="1043.75" cy="296.54" r="6.0"/><circle cx="1083.33" cy="281.44" r="6.0"/><circle cx="1097.39" cy="293.42" r="6.0"/><circle cx="1110.41" cy="299.66" r="6.0"/><circle cx="1130.21" cy="305.92" r="6.0"/><circle cx="1133.85" cy="279.87" r="6.0"/><circle cx="1134.38" cy="288.73" r="6.0"/><circle cx="1138.33" cy="222.27" r="6.0"/><circle cx="1006.25" cy="234.04" r="6.0"/><circle cx="1015.63" cy="241.33" r="6.0"/><circle cx="1005.21" cy="216.34" r="6.0"/><circle cx="1012.5" cy="218.42" r="6.0"/><circle cx="1016.66" cy="212.16" r="6.0"/><circle cx="1012.5" cy="303.84" r="6.0"/><circle cx="1030.21" cy="306.96" r="6.0"/><circle cx="1172" cy="224.77" r="6.0"/><circle cx="1194.9" cy="233.08" r="6.0"/><circle cx="1221.88" cy="229.44" r="6.0"/><circle cx="1240.83" cy="252.92" r="6.0"/><circle cx="1150.42" cy="261.23" r="6.0"/><circle cx="1170.84" cy="268.81" r="6.0"/><circle cx="1139.04" cy="279.46" r="6.0"/><circle cx="1139.48" cy="288.65" r="6.0"/><circle cx="1152.61" cy="294.78" r="6.0"/><circle cx="1181.33" cy="279.02" r="6.0"/><circle cx="1195.19" cy="277.27" r="6.0"/><circle cx="1187.9" cy="289.96" r="6.0"/><circle cx="1206.56" cy="295.79" r="6.0"/><circle cx="1236.75" cy="297.25" r="6.0"/><circle cx="1186.58" cy="314.89" r="6.0"/><circle cx="1174.19" cy="329.04" r="6.0"/><circle cx="845.67" cy="311.67" r="6.0"/><circle cx="856.73" cy="309.83" r="6.0"/><circle cx="859.19" cy="320.9" r="6.0"/><circle cx="850.59" cy="335.64" r="6.0"/><circle cx="863.5" cy="336.88" r="6.0"/><circle cx="867.18" cy="343.63" r="6.0"/><circle cx="875.17" cy="341.79" r="6.0"/><circle cx="878.86" cy="347.32" r="6.0"/><circle cx="872.1" cy="352.86" r="6.0"/><circle cx="879.48" cy="330.73" r="6.0"/><circle cx="886.23" cy="323.35" r="6.0"/><circle cx="890.54" cy="338.72" r="6.0"/><circle cx="896.68" cy="344.25" r="6.0"/><circle cx="891.76" cy="351.62" r="6.0"/><circle cx="905.29" cy="351.62" r="6.0"/><circle cx="891.15" cy="365.14" r="6.0"/><circle cx="901.6" cy="371.28" r="6.0"/><circle cx="869.64" cy="378.67" r="6.0"/><circle cx="878.25" cy="378.67" r="6.0"/><circle cx="859.81" cy="390.96" r="6.0"/><circle cx="902.83" cy="315.98" r="6.0"/><circle cx="904.05" cy="330.73" r="6.0"/><circle cx="875.79" cy="300.62" r="6.0"/><circle cx="916.59" cy="403" r="6.0"/><circle cx="923.97" cy="384.81" r="6.0"/><circle cx="927.65" cy="373.74" r="6.0"/><circle cx="914.14" cy="359.86" r="6.0"/><circle cx="916.59" cy="343.02" r="6.0"/><circle cx="927.04" cy="341.17" r="6.0"/><circle cx="936.87" cy="340.56" r="6.0"/><circle cx="936.26" cy="354.08" r="6.0"/><circle cx="951.01" cy="346.71" r="6.0"/><circle cx="951.62" cy="355.31" r="6.0"/><circle cx="960.84" cy="341.17" r="6.0"/><circle cx="968.21" cy="349.78" r="6.0"/><circle cx="984.81" cy="347.32" r="6.0"/><circle cx="962.07" cy="377.43" r="6.0"/><circle cx="948.55" cy="383.58" r="6.0"/><circle cx="1001.4" cy="384.81" r="6.0"/><circle cx="997.1" cy="390.96" r="6.0"/><circle cx="1025.37" cy="336.88" r="6.0"/><circle cx="1025.98" cy="347.93" r="6.0"/><circle cx="1030.28" cy="322.12" r="6.0"/><circle cx="979.28" cy="331.96" r="6.0"/><circle cx="973.75" cy="324.59" r="6.0"/><circle cx="979.89" cy="320.28" r="6.0"/><circle cx="1006.93" cy="324.59" r="6.0"/><circle cx="1011.85" cy="322.12" r="6.0"/><circle cx="1008.16" cy="307.37" r="6.0"/><circle cx="957.77" cy="325.81" r="6.0"/><circle cx="914.75" cy="333.18" r="6.0"/><circle cx="927.04" cy="325.81" r="6.0"/><circle cx="940.56" cy="328.27" r="6.0"/><circle cx="949.17" cy="319.66" r="6.0"/><circle cx="914.75" cy="307.37" r="6.0"/><circle cx="935.64" cy="309.83" r="6.0"/><circle cx="955.31" cy="302.46" r="6.0"/><circle cx="973.75" cy="301.22" r="6.0"/><circle cx="1047.82" cy="316.6" r="6.0"/><circle cx="1071.79" cy="315.36" r="6.0"/><circle cx="1105.59" cy="315.98" r="6.0"/><circle cx="1123.66" cy="322.74" r="6.0"/><circle cx="1119.11" cy="348.55" r="6.0"/><circle cx="1060.97" cy="354.08" r="6.0"/><circle cx="1056.79" cy="379.64" r="6.0"/><circle cx="1031.23" cy="338.1" r="6.0"/><circle cx="1033.69" cy="303.69" r="6.0"/><circle cx="938.75" cy="206.69" r="6.0"/><circle cx="932" cy="210.59" r="6.0"/><circle cx="936.5" cy="210.59" r="6.0"/><circle cx="941" cy="210.59" r="6.0"/><circle cx="945.5" cy="210.59" r="6.0"/><circle cx="925.25" cy="214.48" r="6.0"/><circle cx="934.25" cy="214.48" r="6.0"/><circle cx="938.75" cy="214.48" r="6.0"/><circle cx="943.25" cy="214.48" r="6.0"/><circle cx="947.75" cy="214.48" r="6.0"/><circle cx="918.5" cy="218.39" r="6.0"/><circle cx="936.5" cy="218.39" r="6.0"/><circle cx="941" cy="218.39" r="6.0"/><circle cx="945.5" cy="218.39" r="6.0"/><circle cx="950" cy="218.39" r="6.0"/><circle cx="907.25" cy="222.28" r="6.0"/><circle cx="911.75" cy="222.28" r="6.0"/><circle cx="916.25" cy="222.28" r="6.0"/><circle cx="920.75" cy="222.28" r="6.0"/><circle cx="938.75" cy="222.28" r="6.0"/><circle cx="943.25" cy="222.28" r="6.0"/><circle cx="947.75" cy="222.28" r="6.0"/><circle cx="952.25" cy="222.28" r="6.0"/><circle cx="905" cy="226.18" r="6.0"/><circle cx="909.5" cy="226.18" r="6.0"/><circle cx="914" cy="226.18" r="6.0"/><circle cx="918.5" cy="226.18" r="6.0"/><circle cx="936.5" cy="226.18" r="6.0"/><circle cx="941" cy="226.18" r="6.0"/><circle cx="945.5" cy="226.18" r="6.0"/><circle cx="950" cy="226.18" r="6.0"/><circle cx="954.5" cy="226.18" r="6.0"/><circle cx="907.25" cy="230.07" r="6.0"/><circle cx="911.75" cy="230.07" r="6.0"/><circle cx="916.25" cy="230.07" r="6.0"/><circle cx="920.75" cy="230.07" r="6.0"/><circle cx="925.25" cy="230.07" r="6.0"/><circle cx="929.75" cy="230.07" r="6.0"/><circle cx="934.25" cy="230.07" r="6.0"/><circle cx="938.75" cy="230.07" r="6.0"/><circle cx="943.25" cy="230.07" r="6.0"/><circle cx="947.75" cy="230.07" r="6.0"/><circle cx="952.25" cy="230.07" r="6.0"/><circle cx="956.75" cy="230.07" r="6.0"/><circle cx="909.5" cy="233.97" r="6.0"/><circle cx="914" cy="233.97" r="6.0"/><circle cx="918.5" cy="233.97" r="6.0"/><circle cx="923" cy="233.97" r="6.0"/><circle cx="927.5" cy="233.97" r="6.0"/><circle cx="932" cy="233.97" r="6.0"/><circle cx="936.5" cy="233.97" r="6.0"/><circle cx="941" cy="233.97" r="6.0"/><circle cx="945.5" cy="233.97" r="6.0"/><circle cx="950" cy="233.97" r="6.0"/><circle cx="954.5" cy="233.97" r="6.0"/><circle cx="959" cy="233.97" r="6.0"/><circle cx="902.75" cy="237.87" r="6.0"/><circle cx="907.25" cy="237.87" r="6.0"/><circle cx="911.75" cy="237.87" r="6.0"/><circle cx="916.25" cy="237.87" r="6.0"/><circle cx="920.75" cy="237.87" r="6.0"/><circle cx="925.25" cy="237.87" r="6.0"/><circle cx="929.75" cy="237.87" r="6.0"/><circle cx="934.25" cy="237.87" r="6.0"/><circle cx="938.75" cy="237.87" r="6.0"/><circle cx="943.25" cy="237.87" r="6.0"/><circle cx="947.75" cy="237.87" r="6.0"/><circle cx="952.25" cy="237.87" r="6.0"/><circle cx="956.75" cy="237.87" r="6.0"/><circle cx="961.25" cy="237.87" r="6.0"/><circle cx="896" cy="241.77" r="6.0"/><circle cx="900.5" cy="241.77" r="6.0"/><circle cx="905" cy="241.77" r="6.0"/><circle cx="909.5" cy="241.77" r="6.0"/><circle cx="914" cy="241.77" r="6.0"/><circle cx="918.5" cy="241.77" r="6.0"/><circle cx="923" cy="241.77" r="6.0"/><circle cx="927.5" cy="241.77" r="6.0"/><circle cx="932" cy="241.77" r="6.0"/><circle cx="936.5" cy="241.77" r="6.0"/><circle cx="941" cy="241.77" r="6.0"/><circle cx="945.5" cy="241.77" r="6.0"/><circle cx="950" cy="241.77" r="6.0"/><circle cx="954.5" cy="241.77" r="6.0"/><circle cx="959" cy="241.77" r="6.0"/><circle cx="963.5" cy="241.77" r="6.0"/><circle cx="968" cy="241.77" r="6.0"/><circle cx="889.25" cy="245.66" r="6.0"/><circle cx="893.75" cy="245.66" r="6.0"/><circle cx="898.25" cy="245.66" r="6.0"/><circle cx="902.75" cy="245.66" r="6.0"/><circle cx="907.25" cy="245.66" r="6.0"/><circle cx="911.75" cy="245.66" r="6.0"/><circle cx="916.25" cy="245.66" r="6.0"/><circle cx="920.75" cy="245.66" r="6.0"/><circle cx="925.25" cy="245.66" r="6.0"/><circle cx="929.75" cy="245.66" r="6.0"/><circle cx="934.25" cy="245.66" r="6.0"/><circle cx="938.75" cy="245.66" r="6.0"/><circle cx="943.25" cy="245.66" r="6.0"/><circle cx="947.75" cy="245.66" r="6.0"/><circle cx="952.25" cy="245.66" r="6.0"/><circle cx="956.75" cy="245.66" r="6.0"/><circle cx="961.25" cy="245.66" r="6.0"/><circle cx="965.75" cy="245.66" r="6.0"/><circle cx="970.25" cy="245.66" r="6.0"/><circle cx="974.75" cy="245.66" r="6.0"/><circle cx="979.25" cy="245.66" r="6.0"/><circle cx="887" cy="249.56" r="6.0"/><circle cx="891.5" cy="249.56" r="6.0"/><circle cx="896" cy="249.56" r="6.0"/><circle cx="900.5" cy="249.56" r="6.0"/><circle cx="905" cy="249.56" r="6.0"/><circle cx="909.5" cy="249.56" r="6.0"/><circle cx="914" cy="249.56" r="6.0"/><circle cx="927.5" cy="249.56" r="6.0"/><circle cx="932" cy="249.56" r="6.0"/><circle cx="936.5" cy="249.56" r="6.0"/><circle cx="941" cy="249.56" r="6.0"/><circle cx="945.5" cy="249.56" r="6.0"/><circle cx="950" cy="249.56" r="6.0"/><circle cx="954.5" cy="249.56" r="6.0"/><circle cx="959" cy="249.56" r="6.0"/><circle cx="963.5" cy="249.56" r="6.0"/><circle cx="968" cy="249.56" r="6.0"/><circle cx="986" cy="249.56" r="6.0"/><circle cx="884.75" cy="253.45" r="6.0"/><circle cx="889.25" cy="253.45" r="6.0"/><circle cx="893.75" cy="253.45" r="6.0"/><circle cx="898.25" cy="253.45" r="6.0"/><circle cx="902.75" cy="253.45" r="6.0"/><circle cx="907.25" cy="253.45" r="6.0"/><circle cx="911.75" cy="253.45" r="6.0"/><circle cx="929.75" cy="253.45" r="6.0"/><circle cx="934.25" cy="253.45" r="6.0"/><circle cx="938.75" cy="253.45" r="6.0"/><circle cx="943.25" cy="253.45" r="6.0"/><circle cx="947.75" cy="253.45" r="6.0"/><circle cx="952.25" cy="253.45" r="6.0"/><circle cx="956.75" cy="253.45" r="6.0"/><circle cx="961.25" cy="253.45" r="6.0"/><circle cx="965.75" cy="253.45" r="6.0"/><circle cx="983.75" cy="253.45" r="6.0"/><circle cx="988.25" cy="253.45" r="6.0"/><circle cx="887" cy="257.36" r="6.0"/><circle cx="891.5" cy="257.36" r="6.0"/><circle cx="896" cy="257.36" r="6.0"/><circle cx="900.5" cy="257.36" r="6.0"/><circle cx="905" cy="257.36" r="6.0"/><circle cx="909.5" cy="257.36" r="6.0"/><circle cx="914" cy="257.36" r="6.0"/><circle cx="932" cy="257.36" r="6.0"/><circle cx="936.5" cy="257.36" r="6.0"/><circle cx="941" cy="257.36" r="6.0"/><circle cx="945.5" cy="257.36" r="6.0"/><circle cx="950" cy="257.36" r="6.0"/><circle cx="986" cy="257.36" r="6.0"/><circle cx="884.75" cy="261.25" r="6.0"/><circle cx="889.25" cy="261.25" r="6.0"/><circle cx="893.75" cy="261.25" r="6.0"/><circle cx="898.25" cy="261.25" r="6.0"/><circle cx="902.75" cy="261.25" r="6.0"/><circle cx="907.25" cy="261.25" r="6.0"/><circle cx="911.75" cy="261.25" r="6.0"/><circle cx="916.25" cy="261.25" r="6.0"/><circle cx="929.75" cy="261.25" r="6.0"/><circle cx="934.25" cy="261.25" r="6.0"/><circle cx="938.75" cy="261.25" r="6.0"/><circle cx="943.25" cy="261.25" r="6.0"/><circle cx="947.75" cy="261.25" r="6.0"/><circle cx="979.25" cy="261.25" r="6.0"/><circle cx="983.75" cy="261.25" r="6.0"/><circle cx="882.5" cy="265.15" r="6.0"/><circle cx="887" cy="265.15" r="6.0"/><circle cx="891.5" cy="265.15" r="6.0"/><circle cx="896" cy="265.15" r="6.0"/><circle cx="900.5" cy="265.15" r="6.0"/><circle cx="905" cy="265.15" r="6.0"/><circle cx="909.5" cy="265.15" r="6.0"/><circle cx="914" cy="265.15" r="6.0"/><circle cx="918.5" cy="265.15" r="6.0"/><circle cx="923" cy="265.15" r="6.0"/><circle cx="927.5" cy="265.15" r="6.0"/><circle cx="932" cy="265.15" r="6.0"/><circle cx="936.5" cy="265.15" r="6.0"/><circle cx="941" cy="265.15" r="6.0"/><circle cx="945.5" cy="265.15" r="6.0"/><circle cx="884.75" cy="269.04" r="6.0"/><circle cx="889.25" cy="269.04" r="6.0"/><circle cx="893.75" cy="269.04" r="6.0"/><circle cx="898.25" cy="269.04" r="6.0"/><circle cx="902.75" cy="269.04" r="6.0"/><circle cx="907.25" cy="269.04" r="6.0"/><circle cx="911.75" cy="269.04" r="6.0"/><circle cx="929.75" cy="269.04" r="6.0"/><circle cx="934.25" cy="269.04" r="6.0"/><circle cx="938.75" cy="269.04" r="6.0"/><circle cx="943.25" cy="269.04" r="6.0"/><circle cx="947.75" cy="269.04" r="6.0"/><circle cx="992.75" cy="269.04" r="6.0"/><circle cx="882.5" cy="272.94" r="6.0"/><circle cx="887" cy="272.94" r="6.0"/><circle cx="891.5" cy="272.94" r="6.0"/><circle cx="896" cy="272.94" r="6.0"/><circle cx="900.5" cy="272.94" r="6.0"/><circle cx="905" cy="272.94" r="6.0"/><circle cx="909.5" cy="272.94" r="6.0"/><circle cx="914" cy="272.94" r="6.0"/><circle cx="932" cy="272.94" r="6.0"/><circle cx="936.5" cy="272.94" r="6.0"/><circle cx="941" cy="272.94" r="6.0"/><circle cx="945.5" cy="272.94" r="6.0"/><circle cx="950" cy="272.94" r="6.0"/><circle cx="972.5" cy="272.94" r="6.0"/><circle cx="990.5" cy="272.94" r="6.0"/><circle cx="995" cy="272.94" r="6.0"/><circle cx="999.5" cy="272.94" r="6.0"/><circle cx="880.25" cy="276.83" r="6.0"/><circle cx="884.75" cy="276.83" r="6.0"/><circle cx="889.25" cy="276.83" r="6.0"/><circle cx="893.75" cy="276.83" r="6.0"/><circle cx="898.25" cy="276.83" r="6.0"/><circle cx="902.75" cy="276.83" r="6.0"/><circle cx="907.25" cy="276.83" r="6.0"/><circle cx="911.75" cy="276.83" r="6.0"/><circle cx="929.75" cy="276.83" r="6.0"/><circle cx="934.25" cy="276.83" r="6.0"/><circle cx="938.75" cy="276.83" r="6.0"/><circle cx="943.25" cy="276.83" r="6.0"/><circle cx="947.75" cy="276.83" r="6.0"/><circle cx="952.25" cy="276.83" r="6.0"/><circle cx="970.25" cy="276.83" r="6.0"/><circle cx="974.75" cy="276.83" r="6.0"/><circle cx="988.25" cy="276.83" r="6.0"/><circle cx="992.75" cy="276.83" r="6.0"/><circle cx="997.25" cy="276.83" r="6.0"/><circle cx="882.5" cy="280.74" r="6.0"/><circle cx="887" cy="280.74" r="6.0"/><circle cx="891.5" cy="280.74" r="6.0"/><circle cx="896" cy="280.74" r="6.0"/><circle cx="900.5" cy="280.74" r="6.0"/><circle cx="905" cy="280.74" r="6.0"/><circle cx="909.5" cy="280.74" r="6.0"/><circle cx="914" cy="280.74" r="6.0"/><circle cx="918.5" cy="280.74" r="6.0"/><circle cx="923" cy="280.74" r="6.0"/><circle cx="927.5" cy="280.74" r="6.0"/><circle cx="932" cy="280.74" r="6.0"/><circle cx="936.5" cy="280.74" r="6.0"/><circle cx="941" cy="280.74" r="6.0"/><circle cx="945.5" cy="280.74" r="6.0"/><circle cx="950" cy="280.74" r="6.0"/><circle cx="954.5" cy="280.74" r="6.0"/><circle cx="959" cy="280.74" r="6.0"/><circle cx="963.5" cy="280.74" r="6.0"/><circle cx="968" cy="280.74" r="6.0"/><circle cx="972.5" cy="280.74" r="6.0"/><circle cx="977" cy="280.74" r="6.0"/><circle cx="981.5" cy="280.74" r="6.0"/><circle cx="986" cy="280.74" r="6.0"/><circle cx="990.5" cy="280.74" r="6.0"/><circle cx="995" cy="280.74" r="6.0"/><circle cx="884.75" cy="284.63" r="6.0"/><circle cx="889.25" cy="284.63" r="6.0"/><circle cx="893.75" cy="284.63" r="6.0"/><circle cx="898.25" cy="284.63" r="6.0"/><circle cx="902.75" cy="284.63" r="6.0"/><circle cx="907.25" cy="284.63" r="6.0"/><circle cx="911.75" cy="284.63" r="6.0"/><circle cx="916.25" cy="284.63" r="6.0"/><circle cx="920.75" cy="284.63" r="6.0"/><circle cx="925.25" cy="284.63" r="6.0"/><circle cx="929.75" cy="284.63" r="6.0"/><circle cx="934.25" cy="284.63" r="6.0"/><circle cx="938.75" cy="284.63" r="6.0"/><circle cx="943.25" cy="284.63" r="6.0"/><circle cx="947.75" cy="284.63" r="6.0"/><circle cx="952.25" cy="284.63" r="6.0"/><circle cx="956.75" cy="284.63" r="6.0"/><circle cx="961.25" cy="284.63" r="6.0"/><circle cx="965.75" cy="284.63" r="6.0"/><circle cx="970.25" cy="284.63" r="6.0"/><circle cx="974.75" cy="284.63" r="6.0"/><circle cx="979.25" cy="284.63" r="6.0"/><circle cx="988.25" cy="284.63" r="6.0"/><circle cx="992.75" cy="284.63" r="6.0"/><circle cx="882.5" cy="288.53" r="6.0"/><circle cx="887" cy="288.53" r="6.0"/><circle cx="891.5" cy="288.53" r="6.0"/><circle cx="896" cy="288.53" r="6.0"/><circle cx="900.5" cy="288.53" r="6.0"/><circle cx="905" cy="288.53" r="6.0"/><circle cx="909.5" cy="288.53" r="6.0"/><circle cx="914" cy="288.53" r="6.0"/><circle cx="918.5" cy="288.53" r="6.0"/><circle cx="923" cy="288.53" r="6.0"/><circle cx="927.5" cy="288.53" r="6.0"/><circle cx="932" cy="288.53" r="6.0"/><circle cx="936.5" cy="288.53" r="6.0"/><circle cx="941" cy="288.53" r="6.0"/><circle cx="945.5" cy="288.53" r="6.0"/><circle cx="950" cy="288.53" r="6.0"/><circle cx="954.5" cy="288.53" r="6.0"/><circle cx="959" cy="288.53" r="6.0"/><circle cx="963.5" cy="288.53" r="6.0"/><circle cx="968" cy="288.53" r="6.0"/><circle cx="972.5" cy="288.53" r="6.0"/><circle cx="995" cy="288.53" r="6.0"/><circle cx="880.25" cy="292.42" r="6.0"/><circle cx="884.75" cy="292.42" r="6.0"/><circle cx="898.25" cy="292.42" r="6.0"/><circle cx="902.75" cy="292.42" r="6.0"/><circle cx="907.25" cy="292.42" r="6.0"/><circle cx="911.75" cy="292.42" r="6.0"/><circle cx="916.25" cy="292.42" r="6.0"/><circle cx="920.75" cy="292.42" r="6.0"/><circle cx="925.25" cy="292.42" r="6.0"/><circle cx="929.75" cy="292.42" r="6.0"/><circle cx="934.25" cy="292.42" r="6.0"/><circle cx="938.75" cy="292.42" r="6.0"/><circle cx="943.25" cy="292.42" r="6.0"/><circle cx="947.75" cy="292.42" r="6.0"/><circle cx="965.75" cy="292.42" r="6.0"/><circle cx="970.25" cy="292.42" r="6.0"/><circle cx="974.75" cy="292.42" r="6.0"/><circle cx="997.25" cy="292.42" r="6.0"/><circle cx="882.5" cy="296.33" r="6.0"/><circle cx="900.5" cy="296.33" r="6.0"/><circle cx="905" cy="296.33" r="6.0"/><circle cx="909.5" cy="296.33" r="6.0"/><circle cx="914" cy="296.33" r="6.0"/><circle cx="923" cy="296.33" r="6.0"/><circle cx="927.5" cy="296.33" r="6.0"/><circle cx="932" cy="296.33" r="6.0"/><circle cx="936.5" cy="296.33" r="6.0"/><circle cx="941" cy="296.33" r="6.0"/><circle cx="945.5" cy="296.33" r="6.0"/><circle cx="968" cy="296.33" r="6.0"/><circle cx="972.5" cy="296.33" r="6.0"/><circle cx="902.75" cy="300.22" r="6.0"/><circle cx="907.25" cy="300.22" r="6.0"/><circle cx="911.75" cy="300.22" r="6.0"/><circle cx="929.75" cy="300.22" r="6.0"/><circle cx="934.25" cy="300.22" r="6.0"/><circle cx="938.75" cy="300.22" r="6.0"/><circle cx="943.25" cy="300.22" r="6.0"/><circle cx="947.75" cy="300.22" r="6.0"/><circle cx="974.75" cy="300.22" r="6.0"/><circle cx="979.25" cy="300.22" r="6.0"/><circle cx="988.25" cy="300.22" r="6.0"/><circle cx="896" cy="304.12" r="6.0"/><circle cx="900.5" cy="304.12" r="6.0"/><circle cx="909.5" cy="304.12" r="6.0"/><circle cx="927.5" cy="304.12" r="6.0"/><circle cx="932" cy="304.12" r="6.0"/><circle cx="936.5" cy="304.12" r="6.0"/><circle cx="941" cy="304.12" r="6.0"/><circle cx="945.5" cy="304.12" r="6.0"/><circle cx="950" cy="304.12" r="6.0"/><circle cx="981.5" cy="304.12" r="6.0"/><circle cx="986" cy="304.12" r="6.0"/><circle cx="898.25" cy="308.01" r="6.0"/><circle cx="929.75" cy="308.01" r="6.0"/><circle cx="934.25" cy="308.01" r="6.0"/><circle cx="938.75" cy="308.01" r="6.0"/><circle cx="943.25" cy="308.01" r="6.0"/><circle cx="983.75" cy="308.01" r="6.0"/><circle cx="914" cy="311.91" r="6.0"/><circle cx="918.5" cy="311.91" r="6.0"/><circle cx="923" cy="311.91" r="6.0"/><circle cx="927.5" cy="311.91" r="6.0"/><circle cx="932" cy="311.91" r="6.0"/><circle cx="936.5" cy="311.91" r="6.0"/><circle cx="941" cy="311.91" r="6.0"/><circle cx="986" cy="311.91" r="6.0"/><circle cx="916.25" cy="315.8" r="6.0"/><circle cx="920.75" cy="315.8" r="6.0"/><circle cx="925.25" cy="315.8" r="6.0"/><circle cx="929.75" cy="315.8" r="6.0"/><circle cx="934.25" cy="315.8" r="6.0"/><circle cx="938.75" cy="315.8" r="6.0"/><circle cx="961.25" cy="315.8" r="6.0"/><circle cx="909.5" cy="319.71" r="6.0"/><circle cx="914" cy="319.71" r="6.0"/><circle cx="918.5" cy="319.71" r="6.0"/><circle cx="923" cy="319.71" r="6.0"/><circle cx="927.5" cy="319.71" r="6.0"/><circle cx="932" cy="319.71" r="6.0"/><circle cx="936.5" cy="319.71" r="6.0"/><circle cx="941" cy="319.71" r="6.0"/><circle cx="999.5" cy="319.71" r="6.0"/><circle cx="907.25" cy="323.6" r="6.0"/><circle cx="911.75" cy="323.6" r="6.0"/><circle cx="916.25" cy="323.6" r="6.0"/><circle cx="920.75" cy="323.6" r="6.0"/><circle cx="925.25" cy="323.6" r="6.0"/><circle cx="929.75" cy="323.6" r="6.0"/><circle cx="934.25" cy="323.6" r="6.0"/><circle cx="938.75" cy="323.6" r="6.0"/><circle cx="943.25" cy="323.6" r="6.0"/><circle cx="918.5" cy="327.5" r="6.0"/><circle cx="923" cy="327.5" r="6.0"/><circle cx="927.5" cy="327.5" r="6.0"/><circle cx="932" cy="327.5" r="6.0"/><circle cx="892.5" cy="312.5" r="6.0"/><circle cx="900" cy="320" r="6.0"/><circle cx="905" cy="332.5" r="6.0"/><circle cx="916.25" cy="332.5" r="6.0"/><circle cx="897.5" cy="357.5" r="6.0"/><circle cx="984" cy="222.5" r="6.0"/><circle cx="991.25" cy="228.75" r="6.0"/><circle cx="999.6" cy="232.9" r="6.0"/><circle cx="1010" cy="236" r="6.0"/><circle cx="994.4" cy="187.1" r="6.0"/><circle cx="1011.25" cy="258.75" r="6.0"/><circle cx="1005" cy="264" r="6.0"/><circle cx="1014.4" cy="268.1" r="6.0"/><circle cx="1023.75" cy="259.81" r="6.0"/><circle cx="1030" cy="264" r="6.0"/><circle cx="1042.5" cy="257.7" r="6.0"/><circle cx="1014.4" cy="250.4" r="6.0"/><circle cx="1006" cy="273.3" r="6.0"/></g>
</g>
<text x="775" y="55.2" class="ti">Residuals vs linear predictor</text>
<text x="775" y="97.5" class="st">Family: gaussian</text>
<text x="1044.9" y="480.3" class="at" text-anchor="middle">Linear predictor</text>
<text transform="translate(707.5,267.4) rotate(-90)" class="at" text-anchor="middle">Deviance residuals</text>
<rect x="117.2" y="563" width="539.8" height="297.8" fill="#E5E5E5"/>
<line x1="117.2" x2="657" y1="811.91" y2="811.91" stroke="#fff" stroke-width="1.42"/>
<line x1="117.2" x2="657" y1="740.54" y2="740.54" stroke="#fff" stroke-width="1.42"/>
<line x1="117.2" x2="657" y1="669.16" y2="669.16" stroke="#fff" stroke-width="1.42"/>
<line x1="117.2" x2="657" y1="597.79" y2="597.79" stroke="#fff" stroke-width="1.42"/>
<line y1="563" y2="860.8" x1="142.27" x2="142.27" stroke="#fff" stroke-width="1.42"/>
<line y1="563" y2="860.8" x1="232.12" x2="232.12" stroke="#fff" stroke-width="1.42"/>
<line y1="563" y2="860.8" x1="321.97" x2="321.97" stroke="#fff" stroke-width="1.42"/>
<line y1="563" y2="860.8" x1="411.82" x2="411.82" stroke="#fff" stroke-width="1.42"/>
<line y1="563" y2="860.8" x1="501.67" x2="501.67" stroke="#fff" stroke-width="1.42"/>
<line y1="563" y2="860.8" x1="591.52" x2="591.52" stroke="#fff" stroke-width="1.42"/>
<line x1="117.2" x2="657" y1="847.6" y2="847.6" stroke="#fff" stroke-width="2.84"/>
<line x1="117.2" x2="657" y1="776.23" y2="776.23" stroke="#fff" stroke-width="2.84"/>
<line x1="117.2" x2="657" y1="704.85" y2="704.85" stroke="#fff" stroke-width="2.84"/>
<line x1="117.2" x2="657" y1="633.48" y2="633.48" stroke="#fff" stroke-width="2.84"/>
<line y1="563" y2="860.8" x1="187.2" x2="187.2" stroke="#fff" stroke-width="2.84"/>
<line y1="563" y2="860.8" x1="277.05" x2="277.05" stroke="#fff" stroke-width="2.84"/>
<line y1="563" y2="860.8" x1="366.9" x2="366.9" stroke="#fff" stroke-width="2.84"/>
<line y1="563" y2="860.8" x1="456.75" x2="456.75" stroke="#fff" stroke-width="2.84"/>
<line y1="563" y2="860.8" x1="546.6" x2="546.6" stroke="#fff" stroke-width="2.84"/>
<line y1="563" y2="860.8" x1="636.45" x2="636.45" stroke="#fff" stroke-width="2.84"/>
<line y1="860.8" y2="868.13" x1="187.2" x2="187.2" stroke="#333333" stroke-width="2.84"/>
<line y1="860.8" y2="868.13" x1="277.05" x2="277.05" stroke="#333333" stroke-width="2.84"/>
<line y1="860.8" y2="868.13" x1="366.9" x2="366.9" stroke="#333333" stroke-width="2.84"/>
<line y1="860.8" y2="868.13" x1="456.75" x2="456.75" stroke="#333333" stroke-width="2.84"/>
<line y1="860.8" y2="868.13" x1="546.6" x2="546.6" stroke="#333333" stroke-width="2.84"/>
<line y1="860.8" y2="868.13" x1="636.45" x2="636.45" stroke="#333333" stroke-width="2.84"/>
<line x1="109.87" x2="117.2" y1="847.6" y2="847.6" stroke="#333333" stroke-width="2.84"/>
<line x1="109.87" x2="117.2" y1="776.23" y2="776.23" stroke="#333333" stroke-width="2.84"/>
<line x1="109.87" x2="117.2" y1="704.85" y2="704.85" stroke="#333333" stroke-width="2.84"/>
<line x1="109.87" x2="117.2" y1="633.48" y2="633.48" stroke="#333333" stroke-width="2.84"/>
<text x="187.2" y="892" class="ax" text-anchor="middle">-1.0</text>
<text x="277.05" y="892" class="ax" text-anchor="middle">-0.5</text>
<text x="366.9" y="892" class="ax" text-anchor="middle">0.0</text>
<text x="456.75" y="892" class="ax" text-anchor="middle">0.5</text>
<text x="546.6" y="892" class="ax" text-anchor="middle">1.0</text>
<text x="636.45" y="892" class="ax" text-anchor="middle">1.5</text>
<text x="103.5" y="856" class="ax" text-anchor="end">0</text>
<text x="103.5" y="784.62" class="ax" text-anchor="end">25</text>
<text x="103.5" y="713.25" class="ax" text-anchor="end">50</text>
<text x="103.5" y="641.88" class="ax" text-anchor="end">75</text>
<g fill="#C1C1C1" stroke="#000" stroke-width="2.84"><rect x="141.85" y="830.47" width="40.89" height="17.13"/><rect x="182.74" y="819.05" width="40.89" height="28.55"/><rect x="223.63" y="759.1" width="40.89" height="88.5"/><rect x="264.52" y="662.03" width="40.89" height="185.57"/><rect x="305.41" y="590.65" width="40.89" height="256.95"/><rect x="346.3" y="576.38" width="40.89" height="271.23"/><rect x="387.19" y="596.36" width="40.89" height="251.24"/><rect x="428.08" y="690.58" width="40.89" height="157.02"/><rect x="468.97" y="750.53" width="40.89" height="97.07"/><rect x="509.86" y="804.77" width="40.89" height="42.83"/><rect x="550.75" y="841.89" width="40.89" height="5.71"/><rect x="591.64" y="844.75" width="40.89" height="2.86"/></g>
<text x="117.2" y="541" class="ti">Histogram of residuals</text>
<text x="387.1" y="925" class="at" text-anchor="middle">Deviance residuals</text>
<text transform="translate(49.5,711.9) rotate(-90)" class="at" text-anchor="middle">Frequency</text>
<rect x="775" y="563" width="539.8" height="297.8" fill="#E5E5E5"/>
<line x1="775" x2="1314.8" y1="839.1" y2="839.1" stroke="#fff" stroke-width="1.42"/>
<line x1="775" x2="1314.8" y1="755.3" y2="755.3" stroke="#fff" stroke-width="1.42"/>
<line x1="775" x2="1314.8" y1="671.5" y2="671.5" stroke="#fff" stroke-width="1.42"/>
<line x1="775" x2="1314.8" y1="587.7" y2="587.7" stroke="#fff" stroke-width="1.42"/>
<line y1="563" y2="860.8" x1="819.55" x2="819.55" stroke="#fff" stroke-width="1.42"/>
<line y1="563" y2="860.8" x1="953.45" x2="953.45" stroke="#fff" stroke-width="1.42"/>
<line y1="563" y2="860.8" x1="1087.35" x2="1087.35" stroke="#fff" stroke-width="1.42"/>
<line y1="563" y2="860.8" x1="1221.25" x2="1221.25" stroke="#fff" stroke-width="1.42"/>
<line x1="775" x2="1314.8" y1="797.2" y2="797.2" stroke="#fff" stroke-width="2.84"/>
<line x1="775" x2="1314.8" y1="713.4" y2="713.4" stroke="#fff" stroke-width="2.84"/>
<line x1="775" x2="1314.8" y1="629.6" y2="629.6" stroke="#fff" stroke-width="2.84"/>
<line y1="563" y2="860.8" x1="886.5" x2="886.5" stroke="#fff" stroke-width="2.84"/>
<line y1="563" y2="860.8" x1="1020.4" x2="1020.4" stroke="#fff" stroke-width="2.84"/>
<line y1="563" y2="860.8" x1="1154.3" x2="1154.3" stroke="#fff" stroke-width="2.84"/>
<line y1="563" y2="860.8" x1="1288.2" x2="1288.2" stroke="#fff" stroke-width="2.84"/>
<line y1="860.8" y2="868.13" x1="886.5" x2="886.5" stroke="#333333" stroke-width="2.84"/>
<line y1="860.8" y2="868.13" x1="1020.4" x2="1020.4" stroke="#333333" stroke-width="2.84"/>
<line y1="860.8" y2="868.13" x1="1154.3" x2="1154.3" stroke="#333333" stroke-width="2.84"/>
<line y1="860.8" y2="868.13" x1="1288.2" x2="1288.2" stroke="#333333" stroke-width="2.84"/>
<line x1="767.67" x2="775" y1="797.2" y2="797.2" stroke="#333333" stroke-width="2.84"/>
<line x1="767.67" x2="775" y1="713.4" y2="713.4" stroke="#333333" stroke-width="2.84"/>
<line x1="767.67" x2="775" y1="629.6" y2="629.6" stroke="#333333" stroke-width="2.84"/>
<text x="886.5" y="892" class="ax" text-anchor="middle">0</text>
<text x="1020.4" y="892" class="ax" text-anchor="middle">2</text>
<text x="1154.3" y="892" class="ax" text-anchor="middle">4</text>
<text x="1288.2" y="892" class="ax" text-anchor="middle">6</text>
<text x="761.3" y="805.6" class="ax" text-anchor="end">0.0</text>
<text x="761.3" y="721.8" class="ax" text-anchor="end">2.5</text>
<text x="761.3" y="638" class="ax" text-anchor="end">5.0</text>
<clipPath id="c4"><rect x="775" y="563" width="539.8" height="297.8"/></clipPath>
<g clip-path="url(#c4)">
<g fill="#000"><circle cx="873.44" cy="760.03" r="6.0"/><circle cx="864.07" cy="777.12" r="6.0"/><circle cx="885.42" cy="769.01" r="6.0"/><circle cx="899.69" cy="760.42" r="6.0"/><circle cx="902.6" cy="761.53" r="6.0"/><circle cx="906.77" cy="761.06" r="6.0"/><circle cx="873.12" cy="778.55" r="6.0"/><circle cx="885.42" cy="774.49" r="6.0"/><circle cx="892.4" cy="772.92" r="6.0"/><circle cx="905.21" cy="765.96" r="6.0"/><circle cx="880.73" cy="780.86" r="6.0"/><circle cx="903.65" cy="770.67" r="6.0"/><circle cx="799.16" cy="823.31" r="6.0"/><circle cx="937.81" cy="735.92" r="6.0"/><circle cx="921.98" cy="746.94" r="6.0"/><circle cx="915.21" cy="753.93" r="6.0"/><circle cx="916.25" cy="756.63" r="6.0"/><circle cx="923.54" cy="754.01" r="6.0"/><circle cx="970.94" cy="723.13" r="6.0"/><circle cx="976.15" cy="720.68" r="6.0"/><circle cx="1014.69" cy="696.65" r="6.0"/><circle cx="1006.88" cy="703.78" r="6.0"/><circle cx="1016.25" cy="700.83" r="6.0"/><circle cx="1011.56" cy="703.92" r="6.0"/><circle cx="997.5" cy="711.76" r="6.0"/><circle cx="999.59" cy="713.3" r="6.0"/><circle cx="1002.71" cy="712.7" r="6.0"/><circle cx="964.17" cy="732.96" r="6.0"/><circle cx="959.48" cy="737.24" r="6.0"/><circle cx="957.39" cy="739.9" r="6.0"/><circle cx="976.15" cy="726.97" r="6.0"/><circle cx="979.27" cy="728.3" r="6.0"/><circle cx="989.17" cy="721.41" r="6.0"/><circle cx="989.69" cy="723.73" r="6.0"/><circle cx="1004.27" cy="715.14" r="6.0"/><circle cx="1017.29" cy="708.3" r="6.0"/><circle cx="1022.5" cy="708.43" r="6.0"/><circle cx="1036.04" cy="701" r="6.0"/><circle cx="1013.12" cy="713.93" r="6.0"/><circle cx="988.12" cy="727.57" r="6.0"/><circle cx="931.36" cy="754.22" r="6.0"/><circle cx="941.25" cy="748.94" r="6.0"/><circle cx="947.5" cy="747.11" r="6.0"/><circle cx="1084.06" cy="672.03" r="6.0"/><circle cx="1134.58" cy="653.7" r="6.0"/><circle cx="1171.87" cy="630.74" r="6.0"/><circle cx="1179.37" cy="623.44" r="6.0"/><circle cx="1290.21" cy="576.49" r="6.0"/><circle cx="849.48" cy="806.14" r="6.0"/><circle cx="846.87" cy="814.53" r="6.0"/><circle cx="843.75" cy="818.89" r="6.0"/><circle cx="864.58" cy="806.46" r="6.0"/><circle cx="868.75" cy="804.86" r="6.0"/><circle cx="864.07" cy="811.07" r="6.0"/><circle cx="865.62" cy="813.03" r="6.0"/><circle cx="870.83" cy="812.03" r="6.0"/><circle cx="833.86" cy="830.38" r="6.0"/><circle cx="830.21" cy="833.66" r="6.0"/><circle cx="853.13" cy="823.15" r="6.0"/><circle cx="882.29" cy="785.2" r="6.0"/><circle cx="890.62" cy="781.99" r="6.0"/><circle cx="874.48" cy="794.42" r="6.0"/><circle cx="919.22" cy="764.56" r="6.0"/><circle cx="924.69" cy="762.06" r="6.0"/><circle cx="958.28" cy="743.79" r="6.0"/><circle cx="952.03" cy="745.95" r="6.0"/><circle cx="964.53" cy="743.8" r="6.0"/><circle cx="966.1" cy="747.61" r="6.0"/><circle cx="907.5" cy="774.77" r="6.0"/><circle cx="887.19" cy="787.36" r="6.0"/><circle cx="881.72" cy="793.48" r="6.0"/><circle cx="887.97" cy="793.01" r="6.0"/><circle cx="882.5" cy="798.4" r="6.0"/><circle cx="951.25" cy="761.57" r="6.0"/><circle cx="962.19" cy="752.47" r="6.0"/><circle cx="979.37" cy="742.42" r="6.0"/><circle cx="987.71" cy="740.83" r="6.0"/><circle cx="989.79" cy="742.68" r="6.0"/><circle cx="993.96" cy="732.54" r="6.0"/><circle cx="1002.81" cy="732.62" r="6.0"/><circle cx="999.16" cy="737.67" r="6.0"/><circle cx="1002.29" cy="722.9" r="6.0"/><circle cx="975.21" cy="736.78" r="6.0"/><circle cx="986.66" cy="732.65" r="6.0"/><circle cx="999.16" cy="740.56" r="6.0"/><circle cx="1002.29" cy="741.9" r="6.0"/><circle cx="987.71" cy="752.74" r="6.0"/><circle cx="974.16" cy="760.81" r="6.0"/><circle cx="984.58" cy="758.49" r="6.0"/><circle cx="996.04" cy="755.01" r="6.0"/><circle cx="961.66" cy="769.97" r="6.0"/><circle cx="953.34" cy="775.11" r="6.0"/><circle cx="887.71" cy="806.35" r="6.0"/><circle cx="877.29" cy="813.82" r="6.0"/><circle cx="873.12" cy="805.93" r="6.0"/><circle cx="878.33" cy="801.06" r="6.0"/><circle cx="883.54" cy="805.22" r="6.0"/><circle cx="1056.77" cy="694.62" r="6.0"/><circle cx="1060.94" cy="696.08" r="6.0"/><circle cx="1083.33" cy="683.9" r="6.0"/><circle cx="1114.59" cy="670.5" r="6.0"/><circle cx="1033.33" cy="709.58" r="6.0"/><circle cx="1021.36" cy="717.18" r="6.0"/><circle cx="1046.36" cy="708.21" r="6.0"/><circle cx="1114.59" cy="674.37" r="6.0"/><circle cx="1121.35" cy="672.43" r="6.0"/><circle cx="1126.56" cy="672.72" r="6.0"/><circle cx="1128.12" cy="673.55" r="6.0"/><circle cx="1075.52" cy="696.35" r="6.0"/><circle cx="1084.38" cy="693.04" r="6.0"/><circle cx="1094.27" cy="687.44" r="6.0"/><circle cx="1100" cy="687.63" r="6.0"/><circle cx="1108.85" cy="682.07" r="6.0"/><circle cx="1091.15" cy="693.68" r="6.0"/><circle cx="1063.02" cy="702.93" r="6.0"/><circle cx="1063.54" cy="705.56" r="6.0"/><circle cx="1059.89" cy="709.81" r="6.0"/><circle cx="1050.52" cy="715.14" r="6.0"/><circle cx="1050" cy="709.93" r="6.0"/><circle cx="1038.02" cy="718.98" r="6.0"/><circle cx="1033.33" cy="717.14" r="6.0"/><circle cx="1025" cy="720.67" r="6.0"/><circle cx="1023.44" cy="729.67" r="6.0"/><circle cx="1036.46" cy="725.89" r="6.0"/><circle cx="1026.56" cy="731.65" r="6.0"/><circle cx="1053.65" cy="717.6" r="6.0"/><circle cx="1044.79" cy="723.65" r="6.0"/><circle cx="1017.19" cy="738.6" r="6.0"/><circle cx="1003.65" cy="744.57" r="6.0"/><circle cx="1056.25" cy="720.49" r="6.0"/><circle cx="1058.33" cy="720.57" r="6.0"/><circle cx="1034.37" cy="731.44" r="6.0"/><circle cx="1043.75" cy="725.78" r="6.0"/><circle cx="1083.33" cy="701.29" r="6.0"/><circle cx="1097.39" cy="697.96" r="6.0"/><circle cx="1110.41" cy="693.37" r="6.0"/><circle cx="1130.21" cy="685.39" r="6.0"/><circle cx="1133.85" cy="675.51" r="6.0"/><circle cx="1134.38" cy="677.99" r="6.0"/><circle cx="1138.33" cy="655.46" r="6.0"/><circle cx="1006.25" cy="725.23" r="6.0"/><circle cx="1015.63" cy="722.79" r="6.0"/><circle cx="1005.21" cy="720.27" r="6.0"/><circle cx="1012.5" cy="717.27" r="6.0"/><circle cx="1016.66" cy="713.25" r="6.0"/><circle cx="1012.5" cy="743.68" r="6.0"/><circle cx="1030.21" cy="735.78" r="6.0"/><circle cx="1172" cy="639.37" r="6.0"/><circle cx="1194.9" cy="630.48" r="6.0"/><circle cx="1221.88" cy="615.85" r="6.0"/><circle cx="1240.83" cy="613.62" r="6.0"/><circle cx="1150.42" cy="661.45" r="6.0"/><circle cx="1170.84" cy="653.58" r="6.0"/><circle cx="1139.04" cy="672.79" r="6.0"/><circle cx="1139.48" cy="675.41" r="6.0"/><circle cx="1152.61" cy="670.73" r="6.0"/><circle cx="1181.33" cy="651.48" r="6.0"/><circle cx="1195.19" cy="644" r="6.0"/><circle cx="1187.9" cy="651.58" r="6.0"/><circle cx="1206.56" cy="644.03" r="6.0"/><circle cx="1236.75" cy="629.37" r="6.0"/><circle cx="1186.58" cy="659.94" r="6.0"/><circle cx="1174.19" cy="670.52" r="6.0"/><circle cx="845.67" cy="829.63" r="6.0"/><circle cx="856.73" cy="823.52" r="6.0"/><circle cx="859.19" cy="825.72" r="6.0"/><circle cx="850.59" cy="834.58" r="6.0"/><circle cx="863.5" cy="828.5" r="6.0"/><circle cx="867.18" cy="828.74" r="6.0"/><circle cx="875.17" cy="824.17" r="6.0"/><circle cx="878.86" cy="824.04" r="6.0"/><circle cx="872.1" cy="829.13" r="6.0"/><circle cx="879.48" cy="818.6" r="6.0"/><circle cx="886.23" cy="812.93" r="6.0"/><circle cx="890.54" cy="815.53" r="6.0"/><circle cx="896.68" cy="814.16" r="6.0"/><circle cx="891.76" cy="818.91" r="6.0"/><circle cx="905.29" cy="812.14" r="6.0"/><circle cx="891.15" cy="823.39" r="6.0"/><circle cx="901.6" cy="820.06" r="6.0"/><circle cx="869.64" cy="838.35" r="6.0"/><circle cx="878.25" cy="834.04" r="6.0"/><circle cx="859.81" cy="847.07" r="6.0"/><circle cx="902.83" cy="802.35" r="6.0"/><circle cx="904.05" cy="806.29" r="6.0"/><circle cx="875.79" cy="811.13" r="6.0"/><circle cx="916.59" cy="822.36" r="6.0"/><circle cx="923.97" cy="813.05" r="6.0"/><circle cx="927.65" cy="807.78" r="6.0"/><circle cx="914.14" cy="810.25" r="6.0"/><circle cx="916.59" cy="803.82" r="6.0"/><circle cx="927.04" cy="798.01" r="6.0"/><circle cx="936.87" cy="792.9" r="6.0"/><circle cx="936.26" cy="797.39" r="6.0"/><circle cx="951.01" cy="787.73" r="6.0"/><circle cx="951.62" cy="790.08" r="6.0"/><circle cx="960.84" cy="781.09" r="6.0"/><circle cx="968.21" cy="780.06" r="6.0"/><circle cx="984.81" cy="770.99" r="6.0"/><circle cx="962.07" cy="791.69" r="6.0"/><circle cx="948.55" cy="800.36" r="6.0"/><circle cx="1001.4" cy="774.28" r="6.0"/><circle cx="997.1" cy="778.33" r="6.0"/><circle cx="1025.37" cy="747.46" r="6.0"/><circle cx="1025.98" cy="750.57" r="6.0"/><circle cx="1030.28" cy="740.43" r="6.0"/><circle cx="979.28" cy="769.01" r="6.0"/><circle cx="973.75" cy="769.5" r="6.0"/><circle cx="979.89" cy="765.09" r="6.0"/><circle cx="1006.93" cy="752.89" r="6.0"/><circle cx="1011.85" cy="749.66" r="6.0"/><circle cx="1008.16" cy="746.95" r="6.0"/><circle cx="957.77" cy="777.88" r="6.0"/><circle cx="914.75" cy="801.7" r="6.0"/><circle cx="927.04" cy="793.26" r="6.0"/><circle cx="940.56" cy="787.25" r="6.0"/><circle cx="949.17" cy="780.29" r="6.0"/><circle cx="914.75" cy="793.72" r="6.0"/><circle cx="935.64" cy="784.02" r="6.0"/><circle cx="955.31" cy="771.89" r="6.0"/><circle cx="973.75" cy="762.28" r="6.0"/><circle cx="1047.82" cy="729.94" r="6.0"/><circle cx="1071.79" cy="717.56" r="6.0"/><circle cx="1105.59" cy="700.83" r="6.0"/><circle cx="1123.66" cy="693.87" r="6.0"/><circle cx="1119.11" cy="704.13" r="6.0"/><circle cx="1060.97" cy="734.95" r="6.0"/><circle cx="1056.79" cy="744.95" r="6.0"/><circle cx="1031.23" cy="744.9" r="6.0"/><circle cx="1033.69" cy="733.03" r="6.0"/><circle cx="938.75" cy="750.57" r="6.0"/><circle cx="932" cy="755.15" r="6.0"/><circle cx="936.5" cy="752.9" r="6.0"/><circle cx="941" cy="750.65" r="6.0"/><circle cx="945.5" cy="748.39" r="6.0"/><circle cx="925.25" cy="759.73" r="6.0"/><circle cx="934.25" cy="755.23" r="6.0"/><circle cx="938.75" cy="752.98" r="6.0"/><circle cx="943.25" cy="750.72" r="6.0"/><circle cx="947.75" cy="748.47" r="6.0"/><circle cx="918.5" cy="764.32" r="6.0"/><circle cx="936.5" cy="755.31" r="6.0"/><circle cx="941" cy="753.06" r="6.0"/><circle cx="945.5" cy="750.8" r="6.0"/><circle cx="950" cy="748.55" r="6.0"/><circle cx="907.25" cy="771.16" r="6.0"/><circle cx="911.75" cy="768.91" r="6.0"/><circle cx="916.25" cy="766.65" r="6.0"/><circle cx="920.75" cy="764.4" r="6.0"/><circle cx="938.75" cy="755.39" r="6.0"/><circle cx="943.25" cy="753.13" r="6.0"/><circle cx="947.75" cy="750.88" r="6.0"/><circle cx="952.25" cy="748.63" r="6.0"/><circle cx="905" cy="773.49" r="6.0"/><circle cx="909.5" cy="771.24" r="6.0"/><circle cx="914" cy="768.98" r="6.0"/><circle cx="918.5" cy="766.73" r="6.0"/><circle cx="936.5" cy="757.72" r="6.0"/><circle cx="941" cy="755.47" r="6.0"/><circle cx="945.5" cy="753.21" r="6.0"/><circle cx="950" cy="750.96" r="6.0"/><circle cx="954.5" cy="748.71" r="6.0"/><circle cx="907.25" cy="773.57" r="6.0"/><circle cx="911.75" cy="771.32" r="6.0"/><circle cx="916.25" cy="769.06" r="6.0"/><circle cx="920.75" cy="766.81" r="6.0"/><circle cx="925.25" cy="764.55" r="6.0"/><circle cx="929.75" cy="762.3" r="6.0"/><circle cx="934.25" cy="760.05" r="6.0"/><circle cx="938.75" cy="757.8" r="6.0"/><circle cx="943.25" cy="755.54" r="6.0"/><circle cx="947.75" cy="753.29" r="6.0"/><circle cx="952.25" cy="751.04" r="6.0"/><circle cx="956.75" cy="748.78" r="6.0"/><circle cx="909.5" cy="773.65" r="6.0"/><circle cx="914" cy="771.39" r="6.0"/><circle cx="918.5" cy="769.14" r="6.0"/><circle cx="923" cy="766.89" r="6.0"/><circle cx="927.5" cy="764.64" r="6.0"/><circle cx="932" cy="762.38" r="6.0"/><circle cx="936.5" cy="760.13" r="6.0"/><circle cx="941" cy="757.88" r="6.0"/><circle cx="945.5" cy="755.62" r="6.0"/><circle cx="950" cy="753.37" r="6.0"/><circle cx="954.5" cy="751.12" r="6.0"/><circle cx="959" cy="748.86" r="6.0"/><circle cx="902.75" cy="778.23" r="6.0"/><circle cx="907.25" cy="775.98" r="6.0"/><circle cx="911.75" cy="773.73" r="6.0"/><circle cx="916.25" cy="771.47" r="6.0"/><circle cx="920.75" cy="769.22" r="6.0"/><circle cx="925.25" cy="766.96" r="6.0"/><circle cx="929.75" cy="764.71" r="6.0"/><circle cx="934.25" cy="762.46" r="6.0"/><circle cx="938.75" cy="760.21" r="6.0"/><circle cx="943.25" cy="757.95" r="6.0"/><circle cx="947.75" cy="755.7" r="6.0"/><circle cx="952.25" cy="753.45" r="6.0"/><circle cx="956.75" cy="751.19" r="6.0"/><circle cx="961.25" cy="748.94" r="6.0"/><circle cx="896" cy="782.82" r="6.0"/><circle cx="900.5" cy="780.56" r="6.0"/><circle cx="905" cy="778.31" r="6.0"/><circle cx="909.5" cy="776.06" r="6.0"/><circle cx="914" cy="773.8" r="6.0"/><circle cx="918.5" cy="771.55" r="6.0"/><circle cx="923" cy="769.3" r="6.0"/><circle cx="927.5" cy="767.05" r="6.0"/><circle cx="932" cy="764.79" r="6.0"/><circle cx="936.5" cy="762.54" r="6.0"/><circle cx="941" cy="760.29" r="6.0"/><circle cx="945.5" cy="758.03" r="6.0"/><circle cx="950" cy="755.78" r="6.0"/><circle cx="954.5" cy="753.53" r="6.0"/><circle cx="959" cy="751.27" r="6.0"/><circle cx="963.5" cy="749.02" r="6.0"/><circle cx="968" cy="746.77" r="6.0"/><circle cx="889.25" cy="787.4" r="6.0"/><circle cx="893.75" cy="785.15" r="6.0"/><circle cx="898.25" cy="782.89" r="6.0"/><circle cx="902.75" cy="780.64" r="6.0"/><circle cx="907.25" cy="778.39" r="6.0"/><circle cx="911.75" cy="776.14" r="6.0"/><circle cx="916.25" cy="773.88" r="6.0"/><circle cx="920.75" cy="771.63" r="6.0"/><circle cx="925.25" cy="769.38" r="6.0"/><circle cx="929.75" cy="767.12" r="6.0"/><circle cx="934.25" cy="764.87" r="6.0"/><circle cx="938.75" cy="762.62" r="6.0"/><circle cx="943.25" cy="760.36" r="6.0"/><circle cx="947.75" cy="758.11" r="6.0"/><circle cx="952.25" cy="755.86" r="6.0"/><circle cx="956.75" cy="753.6" r="6.0"/><circle cx="961.25" cy="751.35" r="6.0"/><circle cx="965.75" cy="749.1" r="6.0"/><circle cx="970.25" cy="746.85" r="6.0"/><circle cx="974.75" cy="744.59" r="6.0"/><circle cx="979.25" cy="742.34" r="6.0"/><circle cx="887" cy="789.73" r="6.0"/><circle cx="891.5" cy="787.48" r="6.0"/><circle cx="896" cy="785.23" r="6.0"/><circle cx="900.5" cy="782.97" r="6.0"/><circle cx="905" cy="780.72" r="6.0"/><circle cx="909.5" cy="778.47" r="6.0"/><circle cx="914" cy="776.21" r="6.0"/><circle cx="927.5" cy="769.46" r="6.0"/><circle cx="932" cy="767.2" r="6.0"/><circle cx="936.5" cy="764.95" r="6.0"/><circle cx="941" cy="762.7" r="6.0"/><circle cx="945.5" cy="760.44" r="6.0"/><circle cx="950" cy="758.19" r="6.0"/><circle cx="954.5" cy="755.94" r="6.0"/><circle cx="959" cy="753.68" r="6.0"/><circle cx="963.5" cy="751.43" r="6.0"/><circle cx="968" cy="749.18" r="6.0"/><circle cx="986" cy="740.17" r="6.0"/><circle cx="884.75" cy="792.06" r="6.0"/><circle cx="889.25" cy="789.81" r="6.0"/><circle cx="893.75" cy="787.56" r="6.0"/><circle cx="898.25" cy="785.3" r="6.0"/><circle cx="902.75" cy="783.05" r="6.0"/><circle cx="907.25" cy="780.8" r="6.0"/><circle cx="911.75" cy="778.55" r="6.0"/><circle cx="929.75" cy="769.53" r="6.0"/><circle cx="934.25" cy="767.28" r="6.0"/><circle cx="938.75" cy="765.03" r="6.0"/><circle cx="943.25" cy="762.77" r="6.0"/><circle cx="947.75" cy="760.52" r="6.0"/><circle cx="952.25" cy="758.27" r="6.0"/><circle cx="956.75" cy="756.01" r="6.0"/><circle cx="961.25" cy="753.76" r="6.0"/><circle cx="965.75" cy="751.51" r="6.0"/><circle cx="983.75" cy="742.5" r="6.0"/><circle cx="988.25" cy="740.24" r="6.0"/><circle cx="887" cy="792.14" r="6.0"/><circle cx="891.5" cy="789.89" r="6.0"/><circle cx="896" cy="787.64" r="6.0"/><circle cx="900.5" cy="785.38" r="6.0"/><circle cx="905" cy="783.13" r="6.0"/><circle cx="909.5" cy="780.88" r="6.0"/><circle cx="914" cy="778.62" r="6.0"/><circle cx="932" cy="769.61" r="6.0"/><circle cx="936.5" cy="767.36" r="6.0"/><circle cx="941" cy="765.11" r="6.0"/><circle cx="945.5" cy="762.85" r="6.0"/><circle cx="950" cy="760.6" r="6.0"/><circle cx="986" cy="742.58" r="6.0"/><circle cx="884.75" cy="794.47" r="6.0"/><circle cx="889.25" cy="792.22" r="6.0"/><circle cx="893.75" cy="789.97" r="6.0"/><circle cx="898.25" cy="787.71" r="6.0"/><circle cx="902.75" cy="785.46" r="6.0"/><circle cx="907.25" cy="783.21" r="6.0"/><circle cx="911.75" cy="780.96" r="6.0"/><circle cx="916.25" cy="778.7" r="6.0"/><circle cx="929.75" cy="771.94" r="6.0"/><circle cx="934.25" cy="769.69" r="6.0"/><circle cx="938.75" cy="767.44" r="6.0"/><circle cx="943.25" cy="765.19" r="6.0"/><circle cx="947.75" cy="762.93" r="6.0"/><circle cx="979.25" cy="747.16" r="6.0"/><circle cx="983.75" cy="744.91" r="6.0"/><circle cx="882.5" cy="796.8" r="6.0"/><circle cx="887" cy="794.55" r="6.0"/><circle cx="891.5" cy="792.3" r="6.0"/><circle cx="896" cy="790.05" r="6.0"/><circle cx="900.5" cy="787.79" r="6.0"/><circle cx="905" cy="785.54" r="6.0"/><circle cx="909.5" cy="783.29" r="6.0"/><circle cx="914" cy="781.03" r="6.0"/><circle cx="918.5" cy="778.78" r="6.0"/><circle cx="923" cy="776.53" r="6.0"/><circle cx="927.5" cy="774.28" r="6.0"/><circle cx="932" cy="772.02" r="6.0"/><circle cx="936.5" cy="769.77" r="6.0"/><circle cx="941" cy="767.52" r="6.0"/><circle cx="945.5" cy="765.26" r="6.0"/><circle cx="884.75" cy="796.88" r="6.0"/><circle cx="889.25" cy="794.63" r="6.0"/><circle cx="893.75" cy="792.38" r="6.0"/><circle cx="898.25" cy="790.12" r="6.0"/><circle cx="902.75" cy="787.87" r="6.0"/><circle cx="907.25" cy="785.62" r="6.0"/><circle cx="911.75" cy="783.37" r="6.0"/><circle cx="929.75" cy="774.35" r="6.0"/><circle cx="934.25" cy="772.1" r="6.0"/><circle cx="938.75" cy="769.85" r="6.0"/><circle cx="943.25" cy="767.6" r="6.0"/><circle cx="947.75" cy="765.34" r="6.0"/><circle cx="992.75" cy="742.81" r="6.0"/><circle cx="882.5" cy="799.21" r="6.0"/><circle cx="887" cy="796.96" r="6.0"/><circle cx="891.5" cy="794.71" r="6.0"/><circle cx="896" cy="792.46" r="6.0"/><circle cx="900.5" cy="790.2" r="6.0"/><circle cx="905" cy="787.95" r="6.0"/><circle cx="909.5" cy="785.7" r="6.0"/><circle cx="914" cy="783.44" r="6.0"/><circle cx="932" cy="774.43" r="6.0"/><circle cx="936.5" cy="772.18" r="6.0"/><circle cx="941" cy="769.93" r="6.0"/><circle cx="945.5" cy="767.67" r="6.0"/><circle cx="950" cy="765.42" r="6.0"/><circle cx="972.5" cy="754.16" r="6.0"/><circle cx="990.5" cy="745.14" r="6.0"/><circle cx="995" cy="742.89" r="6.0"/><circle cx="999.5" cy="740.64" r="6.0"/><circle cx="880.25" cy="801.55" r="6.0"/><circle cx="884.75" cy="799.29" r="6.0"/><circle cx="889.25" cy="797.04" r="6.0"/><circle cx="893.75" cy="794.79" r="6.0"/><circle cx="898.25" cy="792.53" r="6.0"/><circle cx="902.75" cy="790.28" r="6.0"/><circle cx="907.25" cy="788.03" r="6.0"/><circle cx="911.75" cy="785.78" r="6.0"/><circle cx="929.75" cy="776.76" r="6.0"/><circle cx="934.25" cy="774.51" r="6.0"/><circle cx="938.75" cy="772.26" r="6.0"/><circle cx="943.25" cy="770.01" r="6.0"/><circle cx="947.75" cy="767.75" r="6.0"/><circle cx="952.25" cy="765.5" r="6.0"/><circle cx="970.25" cy="756.49" r="6.0"/><circle cx="974.75" cy="754.23" r="6.0"/><circle cx="988.25" cy="747.47" r="6.0"/><circle cx="992.75" cy="745.22" r="6.0"/><circle cx="997.25" cy="742.97" r="6.0"/><circle cx="882.5" cy="801.62" r="6.0"/><circle cx="887" cy="799.37" r="6.0"/><circle cx="891.5" cy="797.12" r="6.0"/><circle cx="896" cy="794.87" r="6.0"/><circle cx="900.5" cy="792.61" r="6.0"/><circle cx="905" cy="790.36" r="6.0"/><circle cx="909.5" cy="788.11" r="6.0"/><circle cx="914" cy="785.85" r="6.0"/><circle cx="918.5" cy="783.6" r="6.0"/><circle cx="923" cy="781.35" r="6.0"/><circle cx="927.5" cy="779.1" r="6.0"/><circle cx="932" cy="776.84" r="6.0"/><circle cx="936.5" cy="774.59" r="6.0"/><circle cx="941" cy="772.34" r="6.0"/><circle cx="945.5" cy="770.08" r="6.0"/><circle cx="950" cy="767.83" r="6.0"/><circle cx="954.5" cy="765.58" r="6.0"/><circle cx="959" cy="763.32" r="6.0"/><circle cx="963.5" cy="761.07" r="6.0"/><circle cx="968" cy="758.82" r="6.0"/><circle cx="972.5" cy="756.57" r="6.0"/><circle cx="977" cy="754.31" r="6.0"/><circle cx="981.5" cy="752.06" r="6.0"/><circle cx="986" cy="749.81" r="6.0"/><circle cx="990.5" cy="747.55" r="6.0"/><circle cx="995" cy="745.3" r="6.0"/><circle cx="884.75" cy="801.7" r="6.0"/><circle cx="889.25" cy="799.45" r="6.0"/><circle cx="893.75" cy="797.2" r="6.0"/><circle cx="898.25" cy="794.94" r="6.0"/><circle cx="902.75" cy="792.69" r="6.0"/><circle cx="907.25" cy="790.44" r="6.0"/><circle cx="911.75" cy="788.19" r="6.0"/><circle cx="916.25" cy="785.93" r="6.0"/><circle cx="920.75" cy="783.68" r="6.0"/><circle cx="925.25" cy="781.43" r="6.0"/><circle cx="929.75" cy="779.17" r="6.0"/><circle cx="934.25" cy="776.92" r="6.0"/><circle cx="938.75" cy="774.67" r="6.0"/><circle cx="943.25" cy="772.42" r="6.0"/><circle cx="947.75" cy="770.16" r="6.0"/><circle cx="952.25" cy="767.91" r="6.0"/><circle cx="956.75" cy="765.65" r="6.0"/><circle cx="961.25" cy="763.4" r="6.0"/><circle cx="965.75" cy="761.15" r="6.0"/><circle cx="970.25" cy="758.9" r="6.0"/><circle cx="974.75" cy="756.64" r="6.0"/><circle cx="979.25" cy="754.39" r="6.0"/><circle cx="988.25" cy="749.88" r="6.0"/><circle cx="992.75" cy="747.63" r="6.0"/><circle cx="882.5" cy="804.03" r="6.0"/><circle cx="887" cy="801.78" r="6.0"/><circle cx="891.5" cy="799.53" r="6.0"/><circle cx="896" cy="797.28" r="6.0"/><circle cx="900.5" cy="795.02" r="6.0"/><circle cx="905" cy="792.77" r="6.0"/><circle cx="909.5" cy="790.52" r="6.0"/><circle cx="914" cy="788.26" r="6.0"/><circle cx="918.5" cy="786.01" r="6.0"/><circle cx="923" cy="783.76" r="6.0"/><circle cx="927.5" cy="781.51" r="6.0"/><circle cx="932" cy="779.25" r="6.0"/><circle cx="936.5" cy="777" r="6.0"/><circle cx="941" cy="774.75" r="6.0"/><circle cx="945.5" cy="772.49" r="6.0"/><circle cx="950" cy="770.24" r="6.0"/><circle cx="954.5" cy="767.99" r="6.0"/><circle cx="959" cy="765.73" r="6.0"/><circle cx="963.5" cy="763.48" r="6.0"/><circle cx="968" cy="761.23" r="6.0"/><circle cx="972.5" cy="758.98" r="6.0"/><circle cx="995" cy="747.71" r="6.0"/><circle cx="880.25" cy="806.37" r="6.0"/><circle cx="884.75" cy="804.11" r="6.0"/><circle cx="898.25" cy="797.35" r="6.0"/><circle cx="902.75" cy="795.1" r="6.0"/><circle cx="907.25" cy="792.85" r="6.0"/><circle cx="911.75" cy="790.6" r="6.0"/><circle cx="916.25" cy="788.34" r="6.0"/><circle cx="920.75" cy="786.09" r="6.0"/><circle cx="925.25" cy="783.84" r="6.0"/><circle cx="929.75" cy="781.58" r="6.0"/><circle cx="934.25" cy="779.33" r="6.0"/><circle cx="938.75" cy="777.08" r="6.0"/><circle cx="943.25" cy="774.83" r="6.0"/><circle cx="947.75" cy="772.57" r="6.0"/><circle cx="965.75" cy="763.56" r="6.0"/><circle cx="970.25" cy="761.31" r="6.0"/><circle cx="974.75" cy="759.05" r="6.0"/><circle cx="997.25" cy="747.79" r="6.0"/><circle cx="882.5" cy="806.44" r="6.0"/><circle cx="900.5" cy="797.43" r="6.0"/><circle cx="905" cy="795.18" r="6.0"/><circle cx="909.5" cy="792.93" r="6.0"/><circle cx="914" cy="790.67" r="6.0"/><circle cx="923" cy="786.17" r="6.0"/><circle cx="927.5" cy="783.92" r="6.0"/><circle cx="932" cy="781.66" r="6.0"/><circle cx="936.5" cy="779.41" r="6.0"/><circle cx="941" cy="777.16" r="6.0"/><circle cx="945.5" cy="774.9" r="6.0"/><circle cx="968" cy="763.64" r="6.0"/><circle cx="972.5" cy="761.39" r="6.0"/><circle cx="902.75" cy="797.51" r="6.0"/><circle cx="907.25" cy="795.26" r="6.0"/><circle cx="911.75" cy="793.01" r="6.0"/><circle cx="929.75" cy="783.99" r="6.0"/><circle cx="934.25" cy="781.74" r="6.0"/><circle cx="938.75" cy="779.49" r="6.0"/><circle cx="943.25" cy="777.24" r="6.0"/><circle cx="947.75" cy="774.98" r="6.0"/><circle cx="974.75" cy="761.46" r="6.0"/><circle cx="979.25" cy="759.21" r="6.0"/><circle cx="988.25" cy="754.7" r="6.0"/><circle cx="896" cy="802.1" r="6.0"/><circle cx="900.5" cy="799.84" r="6.0"/><circle cx="909.5" cy="795.34" r="6.0"/><circle cx="927.5" cy="786.33" r="6.0"/><circle cx="932" cy="784.07" r="6.0"/><circle cx="936.5" cy="781.82" r="6.0"/><circle cx="941" cy="779.57" r="6.0"/><circle cx="945.5" cy="777.31" r="6.0"/><circle cx="950" cy="775.06" r="6.0"/><circle cx="981.5" cy="759.29" r="6.0"/><circle cx="986" cy="757.04" r="6.0"/><circle cx="898.25" cy="802.17" r="6.0"/><circle cx="929.75" cy="786.4" r="6.0"/><circle cx="934.25" cy="784.15" r="6.0"/><circle cx="938.75" cy="781.9" r="6.0"/><circle cx="943.25" cy="779.65" r="6.0"/><circle cx="983.75" cy="759.37" r="6.0"/><circle cx="914" cy="795.49" r="6.0"/><circle cx="918.5" cy="793.24" r="6.0"/><circle cx="923" cy="790.99" r="6.0"/><circle cx="927.5" cy="788.74" r="6.0"/><circle cx="932" cy="786.48" r="6.0"/><circle cx="936.5" cy="784.23" r="6.0"/><circle cx="941" cy="781.98" r="6.0"/><circle cx="986" cy="759.45" r="6.0"/><circle cx="916.25" cy="795.57" r="6.0"/><circle cx="920.75" cy="793.32" r="6.0"/><circle cx="925.25" cy="791.07" r="6.0"/><circle cx="929.75" cy="788.81" r="6.0"/><circle cx="934.25" cy="786.56" r="6.0"/><circle cx="938.75" cy="784.31" r="6.0"/><circle cx="961.25" cy="773.04" r="6.0"/><circle cx="909.5" cy="800.16" r="6.0"/><circle cx="914" cy="797.9" r="6.0"/><circle cx="918.5" cy="795.65" r="6.0"/><circle cx="923" cy="793.4" r="6.0"/><circle cx="927.5" cy="791.15" r="6.0"/><circle cx="932" cy="788.89" r="6.0"/><circle cx="936.5" cy="786.64" r="6.0"/><circle cx="941" cy="784.39" r="6.0"/><circle cx="999.5" cy="755.1" r="6.0"/><circle cx="907.25" cy="802.49" r="6.0"/><circle cx="911.75" cy="800.24" r="6.0"/><circle cx="916.25" cy="797.98" r="6.0"/><circle cx="920.75" cy="795.73" r="6.0"/><circle cx="925.25" cy="793.48" r="6.0"/><circle cx="929.75" cy="791.22" r="6.0"/><circle cx="934.25" cy="788.97" r="6.0"/><circle cx="938.75" cy="786.72" r="6.0"/><circle cx="943.25" cy="784.47" r="6.0"/><circle cx="918.5" cy="798.06" r="6.0"/><circle cx="923" cy="795.81" r="6.0"/><circle cx="927.5" cy="793.56" r="6.0"/><circle cx="932" cy="791.3" r="6.0"/><circle cx="892.5" cy="806.44" r="6.0"/><circle cx="900" cy="805.01" r="6.0"/><circle cx="905" cy="806.37" r="6.0"/><circle cx="916.25" cy="800.73" r="6.0"/><circle cx="897.5" cy="817.85" r="6.0"/><circle cx="984" cy="732.8" r="6.0"/><circle cx="991.25" cy="731.1" r="6.0"/><circle cx="999.6" cy="728.21" r="6.0"/><circle cx="1010" cy="723.96" r="6.0"/><circle cx="994.4" cy="716.64" r="6.0"/><circle cx="1011.25" cy="730.37" r="6.0"/><circle cx="1005" cy="735.12" r="6.0"/><circle cx="1014.4" cy="731.68" r="6.0"/><circle cx="1023.75" cy="724.43" r="6.0"/><circle cx="1030" cy="722.6" r="6.0"/><circle cx="1042.5" cy="714.4" r="6.0"/><circle cx="1014.4" cy="726.2" r="6.0"/><circle cx="1006" cy="737.49" r="6.0"/></g>
</g>
<text x="775" y="541" class="ti">Observed vs fitted values</text>
<text x="1044.9" y="925" class="at" text-anchor="middle">Fitted values</text>
<text transform="translate(707.5,711.9) rotate(-90)" class="at" text-anchor="middle">Response</text>
</svg></body></html>
